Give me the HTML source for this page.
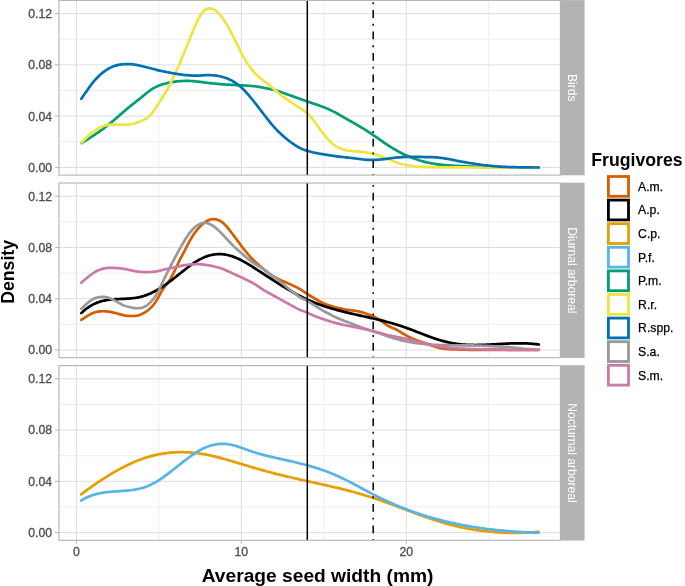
<!DOCTYPE html><html><head><meta charset="utf-8"><style>html,body{margin:0;padding:0;background:#fff;}svg{display:block;will-change:transform;}text{font-family:"Liberation Sans",sans-serif;}</style></head><body>
<svg width="685" height="586" viewBox="0 0 685 586">
<rect x="0" y="0" width="685" height="586" fill="#fff"/>
<defs><clipPath id="c0"><rect x="58.96" y="0.40" width="501.44" height="174.70"/></clipPath></defs>
<g clip-path="url(#c0)">
<line x1="58.96" x2="560.40" y1="141.77" y2="141.77" stroke="#EEEEEE" stroke-width="1"/>
<line x1="58.96" x2="560.40" y1="90.50" y2="90.50" stroke="#EEEEEE" stroke-width="1"/>
<line x1="58.96" x2="560.40" y1="39.23" y2="39.23" stroke="#EEEEEE" stroke-width="1"/>
<line x1="158.88" x2="158.88" y1="0.40" y2="175.10" stroke="#EEEEEE" stroke-width="1"/>
<line x1="323.83" x2="323.83" y1="0.40" y2="175.10" stroke="#EEEEEE" stroke-width="1"/>
<line x1="488.77" x2="488.77" y1="0.40" y2="175.10" stroke="#EEEEEE" stroke-width="1"/>
<line x1="58.96" x2="560.40" y1="167.40" y2="167.40" stroke="#DEDEDE" stroke-width="1"/>
<line x1="58.96" x2="560.40" y1="116.13" y2="116.13" stroke="#DEDEDE" stroke-width="1"/>
<line x1="58.96" x2="560.40" y1="64.86" y2="64.86" stroke="#DEDEDE" stroke-width="1"/>
<line x1="58.96" x2="560.40" y1="13.60" y2="13.60" stroke="#DEDEDE" stroke-width="1"/>
<line x1="76.40" x2="76.40" y1="0.40" y2="175.10" stroke="#DEDEDE" stroke-width="1"/>
<line x1="241.35" x2="241.35" y1="0.40" y2="175.10" stroke="#DEDEDE" stroke-width="1"/>
<line x1="406.30" x2="406.30" y1="0.40" y2="175.10" stroke="#DEDEDE" stroke-width="1"/>
<path d="M81.60,143.00 L82.60,142.38 L83.60,141.76 L84.60,141.14 L85.60,140.52 L86.60,139.89 L87.60,139.27 L88.60,138.65 L89.60,138.02 L90.60,137.39 L91.60,136.75 L92.60,136.11 L93.60,135.47 L94.60,134.81 L95.60,134.15 L96.60,133.49 L97.60,132.81 L98.60,132.13 L99.60,131.43 L100.60,130.73 L101.60,130.02 L102.60,129.29 L103.60,128.55 L104.61,127.79 L105.61,127.02 L106.61,126.24 L107.61,125.44 L108.61,124.63 L109.61,123.81 L110.61,122.98 L111.61,122.14 L112.61,121.30 L113.61,120.45 L114.61,119.59 L115.61,118.74 L116.61,117.87 L117.61,117.00 L118.61,116.13 L119.61,115.26 L120.61,114.39 L121.61,113.51 L122.61,112.64 L123.61,111.77 L124.61,110.91 L125.61,110.06 L126.61,109.21 L127.61,108.37 L128.61,107.54 L129.61,106.72 L130.61,105.90 L131.61,105.09 L132.61,104.29 L133.61,103.50 L134.61,102.72 L135.61,101.94 L136.61,101.16 L137.61,100.38 L138.61,99.61 L139.61,98.82 L140.61,98.03 L141.61,97.23 L142.61,96.41 L143.61,95.58 L144.61,94.74 L145.61,93.90 L146.61,93.07 L147.61,92.26 L148.61,91.48 L149.61,90.73 L150.62,90.03 L151.62,89.37 L152.62,88.75 L153.62,88.17 L154.62,87.62 L155.62,87.11 L156.62,86.63 L157.62,86.18 L158.62,85.75 L159.62,85.36 L160.62,84.98 L161.62,84.64 L162.62,84.31 L163.62,84.00 L164.62,83.72 L165.62,83.45 L166.62,83.20 L167.62,82.96 L168.62,82.74 L169.62,82.54 L170.62,82.35 L171.62,82.17 L172.62,82.00 L173.62,81.85 L174.62,81.70 L175.62,81.57 L176.62,81.45 L177.62,81.34 L178.62,81.25 L179.62,81.16 L180.62,81.09 L181.62,81.03 L182.62,80.99 L183.62,80.96 L184.62,80.93 L185.62,80.92 L186.62,80.92 L187.62,80.93 L188.62,80.95 L189.62,80.97 L190.62,81.01 L191.62,81.06 L192.62,81.13 L193.62,81.20 L194.62,81.28 L195.62,81.37 L196.63,81.47 L197.63,81.57 L198.63,81.68 L199.63,81.80 L200.63,81.92 L201.63,82.06 L202.63,82.19 L203.63,82.33 L204.63,82.47 L205.63,82.60 L206.63,82.73 L207.63,82.86 L208.63,82.97 L209.63,83.09 L210.63,83.19 L211.63,83.30 L212.63,83.40 L213.63,83.50 L214.63,83.61 L215.63,83.71 L216.63,83.81 L217.63,83.91 L218.63,84.00 L219.63,84.09 L220.63,84.17 L221.63,84.25 L222.63,84.32 L223.63,84.38 L224.63,84.45 L225.63,84.51 L226.63,84.57 L227.63,84.62 L228.63,84.68 L229.63,84.74 L230.63,84.80 L231.63,84.85 L232.63,84.91 L233.63,84.96 L234.63,85.01 L235.63,85.06 L236.63,85.11 L237.63,85.15 L238.63,85.20 L239.63,85.25 L240.63,85.30 L241.64,85.35 L242.64,85.40 L243.64,85.45 L244.64,85.51 L245.64,85.57 L246.64,85.63 L247.64,85.69 L248.64,85.76 L249.64,85.83 L250.64,85.90 L251.64,85.98 L252.64,86.07 L253.64,86.17 L254.64,86.28 L255.64,86.40 L256.64,86.53 L257.64,86.68 L258.64,86.84 L259.64,87.01 L260.64,87.18 L261.64,87.37 L262.64,87.56 L263.64,87.75 L264.64,87.95 L265.64,88.15 L266.64,88.35 L267.64,88.55 L268.64,88.74 L269.64,88.94 L270.64,89.14 L271.64,89.35 L272.64,89.57 L273.64,89.80 L274.64,90.06 L275.64,90.34 L276.64,90.64 L277.64,90.97 L278.64,91.31 L279.64,91.67 L280.64,92.03 L281.64,92.39 L282.64,92.74 L283.64,93.09 L284.64,93.44 L285.64,93.78 L286.64,94.12 L287.65,94.47 L288.65,94.81 L289.65,95.17 L290.65,95.52 L291.65,95.88 L292.65,96.25 L293.65,96.61 L294.65,96.97 L295.65,97.34 L296.65,97.70 L297.65,98.05 L298.65,98.41 L299.65,98.77 L300.65,99.12 L301.65,99.47 L302.65,99.83 L303.65,100.18 L304.65,100.53 L305.65,100.88 L306.65,101.23 L307.65,101.58 L308.65,101.93 L309.65,102.27 L310.65,102.61 L311.65,102.95 L312.65,103.28 L313.65,103.62 L314.65,103.96 L315.65,104.29 L316.65,104.64 L317.65,104.98 L318.65,105.33 L319.65,105.68 L320.65,106.04 L321.65,106.41 L322.65,106.78 L323.65,107.17 L324.65,107.56 L325.65,107.96 L326.65,108.38 L327.65,108.80 L328.65,109.24 L329.65,109.69 L330.65,110.15 L331.65,110.62 L332.65,111.11 L333.66,111.62 L334.66,112.14 L335.66,112.67 L336.66,113.22 L337.66,113.78 L338.66,114.35 L339.66,114.93 L340.66,115.51 L341.66,116.10 L342.66,116.68 L343.66,117.26 L344.66,117.83 L345.66,118.39 L346.66,118.95 L347.66,119.51 L348.66,120.08 L349.66,120.64 L350.66,121.21 L351.66,121.78 L352.66,122.36 L353.66,122.94 L354.66,123.51 L355.66,124.09 L356.66,124.66 L357.66,125.23 L358.66,125.80 L359.66,126.38 L360.66,126.97 L361.66,127.57 L362.66,128.18 L363.66,128.81 L364.66,129.44 L365.66,130.09 L366.66,130.73 L367.66,131.38 L368.66,132.03 L369.66,132.69 L370.66,133.34 L371.66,134.00 L372.66,134.66 L373.66,135.34 L374.66,136.02 L375.66,136.71 L376.66,137.41 L377.66,138.11 L378.66,138.82 L379.67,139.53 L380.67,140.24 L381.67,140.94 L382.67,141.64 L383.67,142.33 L384.67,143.02 L385.67,143.69 L386.67,144.36 L387.67,145.01 L388.67,145.66 L389.67,146.30 L390.67,146.93 L391.67,147.55 L392.67,148.16 L393.67,148.77 L394.67,149.37 L395.67,149.96 L396.67,150.54 L397.67,151.11 L398.67,151.66 L399.67,152.21 L400.67,152.74 L401.67,153.26 L402.67,153.76 L403.67,154.24 L404.67,154.71 L405.67,155.17 L406.67,155.61 L407.67,156.04 L408.67,156.46 L409.67,156.86 L410.67,157.26 L411.67,157.64 L412.67,158.02 L413.67,158.38 L414.67,158.74 L415.67,159.09 L416.67,159.44 L417.67,159.78 L418.67,160.10 L419.67,160.42 L420.67,160.73 L421.67,161.02 L422.67,161.31 L423.67,161.58 L424.68,161.84 L425.68,162.08 L426.68,162.32 L427.68,162.54 L428.68,162.75 L429.68,162.96 L430.68,163.15 L431.68,163.34 L432.68,163.52 L433.68,163.69 L434.68,163.85 L435.68,164.01 L436.68,164.16 L437.68,164.30 L438.68,164.43 L439.68,164.56 L440.68,164.68 L441.68,164.79 L442.68,164.89 L443.68,164.99 L444.68,165.08 L445.68,165.17 L446.68,165.25 L447.68,165.33 L448.68,165.40 L449.68,165.46 L450.68,165.52 L451.68,165.58 L452.68,165.64 L453.68,165.69 L454.68,165.74 L455.68,165.79 L456.68,165.84 L457.68,165.89 L458.68,165.94 L459.68,165.99 L460.68,166.04 L461.68,166.09 L462.68,166.14 L463.68,166.19 L464.68,166.25 L465.68,166.30 L466.68,166.35 L467.68,166.40 L468.68,166.45 L469.68,166.50 L470.69,166.55 L471.69,166.60 L472.69,166.65 L473.69,166.69 L474.69,166.74 L475.69,166.79 L476.69,166.83 L477.69,166.88 L478.69,166.92 L479.69,166.96 L480.69,167.00 L481.69,167.03 L482.69,167.07 L483.69,167.10 L484.69,167.13 L485.69,167.15 L486.69,167.18 L487.69,167.20 L488.69,167.23 L489.69,167.25 L490.69,167.27 L491.69,167.29 L492.69,167.31 L493.69,167.32 L494.69,167.34 L495.69,167.35 L496.69,167.36 L497.69,167.38 L498.69,167.38 L499.69,167.39 L500.69,167.40 L501.69,167.41 L502.69,167.41 L503.69,167.42 L504.69,167.42 L505.69,167.43 L506.69,167.43 L507.69,167.43 L508.69,167.44 L509.69,167.44 L510.69,167.45 L511.69,167.45 L512.69,167.45 L513.69,167.46 L514.69,167.46 L515.69,167.46 L516.70,167.47 L517.70,167.47 L518.70,167.47 L519.70,167.47 L520.70,167.48 L521.70,167.48 L522.70,167.48 L523.70,167.48 L524.70,167.49 L525.70,167.49 L526.70,167.49 L527.70,167.49 L528.70,167.49 L529.70,167.49 L530.70,167.49 L531.70,167.50 L532.70,167.50 L533.70,167.50 L534.70,167.50 L535.70,167.50 L536.70,167.50 L537.70,167.50 L538.70,167.50" fill="none" stroke="#009E73" stroke-width="2.70" stroke-linecap="round" stroke-linejoin="round"/>
<path d="M81.60,142.52 L82.60,141.49 L83.60,140.48 L84.60,139.49 L85.60,138.51 L86.60,137.55 L87.60,136.62 L88.60,135.70 L89.60,134.81 L90.60,133.95 L91.60,133.11 L92.60,132.31 L93.60,131.54 L94.60,130.80 L95.60,130.10 L96.60,129.44 L97.60,128.82 L98.60,128.23 L99.60,127.69 L100.60,127.20 L101.60,126.75 L102.60,126.34 L103.60,125.98 L104.61,125.67 L105.61,125.41 L106.61,125.19 L107.61,125.01 L108.61,124.88 L109.61,124.77 L110.61,124.70 L111.61,124.65 L112.61,124.62 L113.61,124.61 L114.61,124.60 L115.61,124.60 L116.61,124.60 L117.61,124.60 L118.61,124.60 L119.61,124.60 L120.61,124.60 L121.61,124.60 L122.61,124.60 L123.61,124.60 L124.61,124.60 L125.61,124.59 L126.61,124.57 L127.61,124.53 L128.61,124.47 L129.61,124.39 L130.61,124.27 L131.61,124.12 L132.61,123.93 L133.61,123.71 L134.61,123.44 L135.61,123.14 L136.61,122.81 L137.61,122.45 L138.61,122.08 L139.61,121.68 L140.61,121.26 L141.61,120.83 L142.61,120.38 L143.61,119.90 L144.61,119.40 L145.61,118.85 L146.61,118.24 L147.61,117.54 L148.61,116.73 L149.61,115.80 L150.62,114.75 L151.62,113.59 L152.62,112.34 L153.62,111.01 L154.62,109.63 L155.62,108.18 L156.62,106.67 L157.62,105.11 L158.62,103.51 L159.62,101.89 L160.62,100.28 L161.62,98.70 L162.62,97.15 L163.62,95.61 L164.62,94.08 L165.62,92.50 L166.62,90.84 L167.62,89.07 L168.62,87.18 L169.62,85.17 L170.62,83.06 L171.62,80.88 L172.62,78.67 L173.62,76.49 L174.62,74.35 L175.62,72.28 L176.62,70.25 L177.62,68.19 L178.62,66.02 L179.62,63.69 L180.62,61.24 L181.62,58.75 L182.62,56.34 L183.62,54.02 L184.62,51.75 L185.62,49.43 L186.62,47.00 L187.62,44.47 L188.62,41.89 L189.62,39.32 L190.62,36.77 L191.62,34.26 L192.62,31.80 L193.62,29.38 L194.62,27.03 L195.62,24.77 L196.63,22.60 L197.63,20.54 L198.63,18.59 L199.63,16.77 L200.63,15.12 L201.63,13.65 L202.63,12.37 L203.63,11.30 L204.63,10.40 L205.63,9.68 L206.63,9.12 L207.63,8.72 L208.63,8.48 L209.63,8.39 L210.63,8.44 L211.63,8.62 L212.63,8.93 L213.63,9.37 L214.63,9.93 L215.63,10.61 L216.63,11.40 L217.63,12.28 L218.63,13.27 L219.63,14.36 L220.63,15.55 L221.63,16.83 L222.63,18.20 L223.63,19.64 L224.63,21.15 L225.63,22.73 L226.63,24.38 L227.63,26.10 L228.63,27.88 L229.63,29.73 L230.63,31.62 L231.63,33.55 L232.63,35.51 L233.63,37.48 L234.63,39.47 L235.63,41.47 L236.63,43.49 L237.63,45.51 L238.63,47.54 L239.63,49.56 L240.63,51.54 L241.64,53.47 L242.64,55.34 L243.64,57.15 L244.64,58.89 L245.64,60.57 L246.64,62.18 L247.64,63.72 L248.64,65.18 L249.64,66.56 L250.64,67.89 L251.64,69.18 L252.64,70.45 L253.64,71.66 L254.64,72.82 L255.64,73.91 L256.64,74.91 L257.64,75.85 L258.64,76.75 L259.64,77.61 L260.64,78.45 L261.64,79.28 L262.64,80.10 L263.64,80.91 L264.64,81.71 L265.64,82.51 L266.64,83.29 L267.64,84.08 L268.64,84.87 L269.64,85.65 L270.64,86.43 L271.64,87.22 L272.64,88.02 L273.64,88.83 L274.64,89.66 L275.64,90.51 L276.64,91.38 L277.64,92.26 L278.64,93.15 L279.64,94.02 L280.64,94.87 L281.64,95.69 L282.64,96.47 L283.64,97.21 L284.64,97.93 L285.64,98.63 L286.64,99.31 L287.65,99.99 L288.65,100.66 L289.65,101.33 L290.65,102.00 L291.65,102.66 L292.65,103.32 L293.65,103.98 L294.65,104.63 L295.65,105.28 L296.65,105.93 L297.65,106.57 L298.65,107.21 L299.65,107.86 L300.65,108.52 L301.65,109.18 L302.65,109.86 L303.65,110.56 L304.65,111.29 L305.65,112.05 L306.65,112.86 L307.65,113.74 L308.65,114.69 L309.65,115.72 L310.65,116.82 L311.65,117.98 L312.65,119.20 L313.65,120.46 L314.65,121.76 L315.65,123.10 L316.65,124.46 L317.65,125.85 L318.65,127.25 L319.65,128.65 L320.65,130.05 L321.65,131.44 L322.65,132.79 L323.65,134.11 L324.65,135.38 L325.65,136.60 L326.65,137.76 L327.65,138.88 L328.65,139.95 L329.65,140.98 L330.65,141.96 L331.65,142.90 L332.65,143.78 L333.66,144.59 L334.66,145.33 L335.66,146.00 L336.66,146.60 L337.66,147.15 L338.66,147.64 L339.66,148.09 L340.66,148.51 L341.66,148.91 L342.66,149.27 L343.66,149.60 L344.66,149.89 L345.66,150.14 L346.66,150.36 L347.66,150.54 L348.66,150.69 L349.66,150.82 L350.66,150.93 L351.66,151.02 L352.66,151.10 L353.66,151.17 L354.66,151.24 L355.66,151.30 L356.66,151.37 L357.66,151.45 L358.66,151.53 L359.66,151.62 L360.66,151.71 L361.66,151.82 L362.66,151.93 L363.66,152.05 L364.66,152.19 L365.66,152.33 L366.66,152.48 L367.66,152.65 L368.66,152.82 L369.66,153.01 L370.66,153.21 L371.66,153.43 L372.66,153.67 L373.66,153.94 L374.66,154.23 L375.66,154.55 L376.66,154.89 L377.66,155.24 L378.66,155.60 L379.67,155.96 L380.67,156.32 L381.67,156.68 L382.67,157.05 L383.67,157.41 L384.67,157.79 L385.67,158.16 L386.67,158.54 L387.67,158.93 L388.67,159.32 L389.67,159.72 L390.67,160.13 L391.67,160.54 L392.67,160.95 L393.67,161.37 L394.67,161.78 L395.67,162.16 L396.67,162.53 L397.67,162.87 L398.67,163.19 L399.67,163.49 L400.67,163.78 L401.67,164.04 L402.67,164.29 L403.67,164.53 L404.67,164.75 L405.67,164.96 L406.67,165.16 L407.67,165.35 L408.67,165.52 L409.67,165.68 L410.67,165.83 L411.67,165.97 L412.67,166.10 L413.67,166.23 L414.67,166.35 L415.67,166.47 L416.67,166.58 L417.67,166.68 L418.67,166.77 L419.67,166.84 L420.67,166.91 L421.67,166.96 L422.67,167.00 L423.67,167.04 L424.68,167.07 L425.68,167.10 L426.68,167.13 L427.68,167.15 L428.68,167.17 L429.68,167.19 L430.68,167.21 L431.68,167.22 L432.68,167.24 L433.68,167.25 L434.68,167.27 L435.68,167.28 L436.68,167.29 L437.68,167.30 L438.68,167.31 L439.68,167.32 L440.68,167.33 L441.68,167.34 L442.68,167.35 L443.68,167.36 L444.68,167.37 L445.68,167.38 L446.68,167.38 L447.68,167.39 L448.68,167.39 L449.68,167.40 L450.68,167.40 L451.68,167.41 L452.68,167.41 L453.68,167.42 L454.68,167.42 L455.68,167.42 L456.68,167.43 L457.68,167.43 L458.68,167.44 L459.68,167.44 L460.68,167.44 L461.68,167.45 L462.68,167.45 L463.68,167.45 L464.68,167.46 L465.68,167.46 L466.68,167.47 L467.68,167.47 L468.68,167.47 L469.68,167.48 L470.69,167.48 L471.69,167.48 L472.69,167.49 L473.69,167.49 L474.69,167.49 L475.69,167.50 L476.69,167.50 L477.69,167.50 L478.69,167.50 L479.69,167.51 L480.69,167.51 L481.69,167.51 L482.69,167.52 L483.69,167.52 L484.69,167.52 L485.69,167.53 L486.69,167.53 L487.69,167.53 L488.69,167.53 L489.69,167.54 L490.69,167.54 L491.69,167.54 L492.69,167.54 L493.69,167.55 L494.69,167.55 L495.69,167.55 L496.69,167.55 L497.69,167.55 L498.69,167.56 L499.69,167.56 L500.69,167.56 L501.69,167.56 L502.69,167.56 L503.69,167.57 L504.69,167.57 L505.69,167.57 L506.69,167.57 L507.69,167.57 L508.69,167.58 L509.69,167.58 L510.69,167.58 L511.69,167.58 L512.69,167.58 L513.69,167.58 L514.69,167.58 L515.69,167.59 L516.70,167.59 L517.70,167.59 L518.70,167.59 L519.70,167.59 L520.70,167.59 L521.70,167.59 L522.70,167.59 L523.70,167.59 L524.70,167.59 L525.70,167.60 L526.70,167.60 L527.70,167.60 L528.70,167.60 L529.70,167.60 L530.70,167.60 L531.70,167.60 L532.70,167.60 L533.70,167.60 L534.70,167.60 L535.70,167.60 L536.70,167.60 L537.70,167.60 L538.70,167.60" fill="none" stroke="#F0E442" stroke-width="2.70" stroke-linecap="round" stroke-linejoin="round"/>
<path d="M81.40,98.82 L82.40,97.31 L83.40,95.82 L84.40,94.33 L85.40,92.85 L86.40,91.39 L87.40,89.95 L88.40,88.52 L89.41,87.13 L90.41,85.77 L91.41,84.44 L92.41,83.17 L93.41,81.93 L94.41,80.75 L95.41,79.61 L96.41,78.52 L97.41,77.47 L98.41,76.47 L99.41,75.51 L100.41,74.59 L101.41,73.71 L102.41,72.88 L103.41,72.08 L104.42,71.33 L105.42,70.61 L106.42,69.94 L107.42,69.30 L108.42,68.70 L109.42,68.14 L110.42,67.62 L111.42,67.15 L112.42,66.72 L113.42,66.33 L114.42,65.97 L115.42,65.66 L116.42,65.37 L117.42,65.12 L118.42,64.90 L119.42,64.70 L120.43,64.54 L121.43,64.41 L122.43,64.31 L123.43,64.23 L124.43,64.18 L125.43,64.14 L126.43,64.12 L127.43,64.12 L128.43,64.12 L129.43,64.14 L130.43,64.17 L131.43,64.23 L132.43,64.31 L133.43,64.42 L134.43,64.56 L135.44,64.72 L136.44,64.90 L137.44,65.10 L138.44,65.31 L139.44,65.54 L140.44,65.78 L141.44,66.03 L142.44,66.28 L143.44,66.54 L144.44,66.79 L145.44,67.05 L146.44,67.30 L147.44,67.55 L148.44,67.80 L149.44,68.04 L150.45,68.29 L151.45,68.54 L152.45,68.79 L153.45,69.04 L154.45,69.30 L155.45,69.57 L156.45,69.83 L157.45,70.10 L158.45,70.36 L159.45,70.60 L160.45,70.83 L161.45,71.05 L162.45,71.26 L163.45,71.45 L164.45,71.65 L165.46,71.84 L166.46,72.04 L167.46,72.24 L168.46,72.44 L169.46,72.64 L170.46,72.83 L171.46,73.02 L172.46,73.19 L173.46,73.36 L174.46,73.52 L175.46,73.68 L176.46,73.84 L177.46,73.99 L178.46,74.15 L179.46,74.30 L180.46,74.45 L181.47,74.60 L182.47,74.74 L183.47,74.86 L184.47,74.98 L185.47,75.08 L186.47,75.17 L187.47,75.26 L188.47,75.34 L189.47,75.41 L190.47,75.47 L191.47,75.53 L192.47,75.58 L193.47,75.62 L194.47,75.64 L195.47,75.65 L196.48,75.65 L197.48,75.64 L198.48,75.61 L199.48,75.58 L200.48,75.53 L201.48,75.47 L202.48,75.40 L203.48,75.33 L204.48,75.27 L205.48,75.22 L206.48,75.18 L207.48,75.16 L208.48,75.16 L209.48,75.17 L210.48,75.19 L211.49,75.23 L212.49,75.29 L213.49,75.35 L214.49,75.44 L215.49,75.56 L216.49,75.69 L217.49,75.85 L218.49,76.03 L219.49,76.23 L220.49,76.45 L221.49,76.68 L222.49,76.94 L223.49,77.22 L224.49,77.52 L225.49,77.84 L226.50,78.19 L227.50,78.58 L228.50,78.99 L229.50,79.43 L230.50,79.91 L231.50,80.42 L232.50,80.97 L233.50,81.55 L234.50,82.17 L235.50,82.82 L236.50,83.52 L237.50,84.25 L238.50,85.03 L239.50,85.84 L240.50,86.70 L241.51,87.61 L242.51,88.55 L243.51,89.54 L244.51,90.57 L245.51,91.63 L246.51,92.72 L247.51,93.83 L248.51,94.97 L249.51,96.14 L250.51,97.32 L251.51,98.52 L252.51,99.75 L253.51,100.99 L254.51,102.24 L255.51,103.52 L256.51,104.80 L257.52,106.10 L258.52,107.41 L259.52,108.72 L260.52,110.03 L261.52,111.34 L262.52,112.65 L263.52,113.95 L264.52,115.25 L265.52,116.54 L266.52,117.82 L267.52,119.09 L268.52,120.35 L269.52,121.60 L270.52,122.84 L271.52,124.06 L272.53,125.25 L273.53,126.41 L274.53,127.54 L275.53,128.63 L276.53,129.68 L277.53,130.70 L278.53,131.69 L279.53,132.65 L280.53,133.59 L281.53,134.52 L282.53,135.42 L283.53,136.31 L284.53,137.19 L285.53,138.05 L286.53,138.89 L287.54,139.71 L288.54,140.50 L289.54,141.28 L290.54,142.03 L291.54,142.76 L292.54,143.47 L293.54,144.16 L294.54,144.82 L295.54,145.46 L296.54,146.07 L297.54,146.67 L298.54,147.23 L299.54,147.77 L300.54,148.28 L301.54,148.75 L302.55,149.20 L303.55,149.61 L304.55,150.00 L305.55,150.35 L306.55,150.69 L307.55,151.00 L308.55,151.29 L309.55,151.56 L310.55,151.81 L311.55,152.05 L312.55,152.28 L313.55,152.49 L314.55,152.70 L315.55,152.90 L316.55,153.09 L317.55,153.28 L318.56,153.46 L319.56,153.64 L320.56,153.81 L321.56,153.99 L322.56,154.15 L323.56,154.32 L324.56,154.49 L325.56,154.65 L326.56,154.81 L327.56,154.97 L328.56,155.13 L329.56,155.29 L330.56,155.44 L331.56,155.60 L332.56,155.75 L333.57,155.89 L334.57,156.03 L335.57,156.17 L336.57,156.30 L337.57,156.43 L338.57,156.56 L339.57,156.68 L340.57,156.79 L341.57,156.90 L342.57,157.01 L343.57,157.12 L344.57,157.23 L345.57,157.33 L346.57,157.44 L347.57,157.54 L348.58,157.65 L349.58,157.76 L350.58,157.87 L351.58,157.98 L352.58,158.10 L353.58,158.23 L354.58,158.35 L355.58,158.48 L356.58,158.61 L357.58,158.75 L358.58,158.88 L359.58,159.02 L360.58,159.15 L361.58,159.27 L362.58,159.40 L363.59,159.51 L364.59,159.62 L365.59,159.71 L366.59,159.79 L367.59,159.85 L368.59,159.89 L369.59,159.93 L370.59,159.95 L371.59,159.96 L372.59,159.95 L373.59,159.94 L374.59,159.91 L375.59,159.86 L376.59,159.80 L377.59,159.73 L378.59,159.65 L379.60,159.57 L380.60,159.49 L381.60,159.40 L382.60,159.31 L383.60,159.21 L384.60,159.10 L385.60,158.98 L386.60,158.85 L387.60,158.71 L388.60,158.56 L389.60,158.41 L390.60,158.27 L391.60,158.13 L392.60,157.99 L393.60,157.87 L394.61,157.75 L395.61,157.64 L396.61,157.54 L397.61,157.45 L398.61,157.37 L399.61,157.30 L400.61,157.23 L401.61,157.16 L402.61,157.10 L403.61,157.04 L404.61,156.98 L405.61,156.93 L406.61,156.89 L407.61,156.85 L408.61,156.83 L409.62,156.82 L410.62,156.81 L411.62,156.80 L412.62,156.80 L413.62,156.81 L414.62,156.81 L415.62,156.82 L416.62,156.84 L417.62,156.86 L418.62,156.88 L419.62,156.91 L420.62,156.94 L421.62,156.97 L422.62,157.00 L423.62,157.03 L424.63,157.06 L425.63,157.08 L426.63,157.09 L427.63,157.10 L428.63,157.10 L429.63,157.11 L430.63,157.13 L431.63,157.15 L432.63,157.18 L433.63,157.23 L434.63,157.28 L435.63,157.35 L436.63,157.43 L437.63,157.52 L438.63,157.63 L439.64,157.74 L440.64,157.86 L441.64,157.99 L442.64,158.13 L443.64,158.27 L444.64,158.42 L445.64,158.57 L446.64,158.73 L447.64,158.90 L448.64,159.08 L449.64,159.27 L450.64,159.46 L451.64,159.66 L452.64,159.87 L453.64,160.08 L454.64,160.29 L455.65,160.50 L456.65,160.71 L457.65,160.91 L458.65,161.11 L459.65,161.31 L460.65,161.49 L461.65,161.67 L462.65,161.85 L463.65,162.02 L464.65,162.19 L465.65,162.36 L466.65,162.54 L467.65,162.71 L468.65,162.88 L469.65,163.05 L470.66,163.21 L471.66,163.38 L472.66,163.54 L473.66,163.70 L474.66,163.85 L475.66,164.01 L476.66,164.16 L477.66,164.30 L478.66,164.45 L479.66,164.59 L480.66,164.73 L481.66,164.86 L482.66,164.99 L483.66,165.11 L484.66,165.22 L485.67,165.33 L486.67,165.44 L487.67,165.55 L488.67,165.65 L489.67,165.75 L490.67,165.86 L491.67,165.96 L492.67,166.06 L493.67,166.15 L494.67,166.24 L495.67,166.33 L496.67,166.40 L497.67,166.48 L498.67,166.55 L499.67,166.61 L500.68,166.67 L501.68,166.73 L502.68,166.78 L503.68,166.83 L504.68,166.88 L505.68,166.92 L506.68,166.96 L507.68,166.99 L508.68,167.02 L509.68,167.06 L510.68,167.09 L511.68,167.11 L512.68,167.14 L513.68,167.17 L514.68,167.19 L515.68,167.22 L516.69,167.24 L517.69,167.26 L518.69,167.28 L519.69,167.31 L520.69,167.33 L521.69,167.34 L522.69,167.36 L523.69,167.38 L524.69,167.39 L525.69,167.40 L526.69,167.42 L527.69,167.43 L528.69,167.44 L529.69,167.45 L530.69,167.46 L531.70,167.47 L532.70,167.47 L533.70,167.48 L534.70,167.49 L535.70,167.49 L536.70,167.49 L537.70,167.50 L538.70,167.50" fill="none" stroke="#0072B2" stroke-width="2.70" stroke-linecap="round" stroke-linejoin="round"/>
<line x1="307.3" x2="307.3" y1="175.10" y2="0.40" stroke="#000" stroke-width="1.5"/>
<line x1="373.2" x2="373.2" y1="175.10" y2="0.40" stroke="#000" stroke-width="1.5" stroke-dasharray="1.95 5.85 7.8 5.85" stroke-dashoffset="0.75"/>
</g>
<rect x="58.96" y="0.40" width="501.44" height="174.70" fill="none" stroke="#B3B3B3" stroke-width="1.1"/>
<rect x="560.40" y="0.10" width="24.20" height="175.20" fill="#B3B3B3"/>
<text x="0" y="0" transform="translate(572.4,87.75) rotate(90)" text-anchor="middle" dominant-baseline="central" fill="#fff" font-size="12.1">Birds</text>
<line x1="55" x2="58.96" y1="167.40" y2="167.40" stroke="#B3B3B3" stroke-width="1"/>
<text x="52.1" y="171.80" text-anchor="end" fill="#4D4D4D" stroke="#4D4D4D" stroke-width="0.3" font-size="12.3">0.00</text>
<line x1="55" x2="58.96" y1="116.13" y2="116.13" stroke="#B3B3B3" stroke-width="1"/>
<text x="52.1" y="120.53" text-anchor="end" fill="#4D4D4D" stroke="#4D4D4D" stroke-width="0.3" font-size="12.3">0.04</text>
<line x1="55" x2="58.96" y1="64.86" y2="64.86" stroke="#B3B3B3" stroke-width="1"/>
<text x="52.1" y="69.26" text-anchor="end" fill="#4D4D4D" stroke="#4D4D4D" stroke-width="0.3" font-size="12.3">0.08</text>
<line x1="55" x2="58.96" y1="13.60" y2="13.60" stroke="#B3B3B3" stroke-width="1"/>
<text x="52.1" y="18.00" text-anchor="end" fill="#4D4D4D" stroke="#4D4D4D" stroke-width="0.3" font-size="12.3">0.12</text>
<defs><clipPath id="c1"><rect x="58.96" y="183.00" width="501.44" height="174.70"/></clipPath></defs>
<g clip-path="url(#c1)">
<line x1="58.96" x2="560.40" y1="324.37" y2="324.37" stroke="#EEEEEE" stroke-width="1"/>
<line x1="58.96" x2="560.40" y1="273.10" y2="273.10" stroke="#EEEEEE" stroke-width="1"/>
<line x1="58.96" x2="560.40" y1="221.83" y2="221.83" stroke="#EEEEEE" stroke-width="1"/>
<line x1="158.88" x2="158.88" y1="183.00" y2="357.70" stroke="#EEEEEE" stroke-width="1"/>
<line x1="323.83" x2="323.83" y1="183.00" y2="357.70" stroke="#EEEEEE" stroke-width="1"/>
<line x1="488.77" x2="488.77" y1="183.00" y2="357.70" stroke="#EEEEEE" stroke-width="1"/>
<line x1="58.96" x2="560.40" y1="350.00" y2="350.00" stroke="#DEDEDE" stroke-width="1"/>
<line x1="58.96" x2="560.40" y1="298.73" y2="298.73" stroke="#DEDEDE" stroke-width="1"/>
<line x1="58.96" x2="560.40" y1="247.46" y2="247.46" stroke="#DEDEDE" stroke-width="1"/>
<line x1="58.96" x2="560.40" y1="196.20" y2="196.20" stroke="#DEDEDE" stroke-width="1"/>
<line x1="76.40" x2="76.40" y1="183.00" y2="357.70" stroke="#DEDEDE" stroke-width="1"/>
<line x1="241.35" x2="241.35" y1="183.00" y2="357.70" stroke="#DEDEDE" stroke-width="1"/>
<line x1="406.30" x2="406.30" y1="183.00" y2="357.70" stroke="#DEDEDE" stroke-width="1"/>
<path d="M81.30,319.92 L82.30,319.24 L83.30,318.56 L84.30,317.90 L85.30,317.26 L86.30,316.63 L87.30,316.02 L88.30,315.43 L89.30,314.86 L90.30,314.32 L91.30,313.82 L92.30,313.36 L93.30,312.93 L94.30,312.56 L95.30,312.23 L96.30,311.96 L97.30,311.73 L98.30,311.55 L99.30,311.41 L100.30,311.32 L101.30,311.27 L102.30,311.24 L103.30,311.23 L104.31,311.25 L105.31,311.29 L106.31,311.36 L107.31,311.46 L108.31,311.59 L109.31,311.74 L110.31,311.93 L111.31,312.13 L112.31,312.34 L113.31,312.57 L114.31,312.80 L115.31,313.05 L116.31,313.30 L117.31,313.56 L118.31,313.82 L119.31,314.09 L120.31,314.36 L121.31,314.63 L122.31,314.89 L123.31,315.14 L124.31,315.37 L125.31,315.58 L126.31,315.75 L127.31,315.87 L128.31,315.96 L129.31,316.00 L130.31,316.02 L131.31,316.02 L132.31,316.00 L133.31,315.98 L134.31,315.94 L135.31,315.87 L136.31,315.76 L137.31,315.59 L138.31,315.36 L139.31,315.07 L140.31,314.71 L141.31,314.30 L142.31,313.83 L143.31,313.32 L144.31,312.75 L145.31,312.14 L146.31,311.47 L147.31,310.74 L148.31,309.96 L149.31,309.11 L150.32,308.20 L151.32,307.22 L152.32,306.16 L153.32,305.00 L154.32,303.75 L155.32,302.36 L156.32,300.85 L157.32,299.19 L158.32,297.41 L159.32,295.56 L160.32,293.71 L161.32,291.91 L162.32,290.23 L163.32,288.69 L164.32,287.29 L165.32,285.98 L166.32,284.70 L167.32,283.39 L168.32,282.00 L169.32,280.50 L170.32,278.87 L171.32,277.13 L172.32,275.28 L173.32,273.36 L174.32,271.37 L175.32,269.32 L176.32,267.22 L177.32,265.09 L178.32,262.95 L179.32,260.84 L180.32,258.82 L181.32,256.89 L182.32,255.03 L183.32,253.19 L184.32,251.33 L185.32,249.42 L186.32,247.47 L187.32,245.51 L188.32,243.59 L189.32,241.72 L190.32,239.93 L191.32,238.23 L192.32,236.60 L193.32,235.05 L194.32,233.59 L195.32,232.19 L196.33,230.87 L197.33,229.62 L198.33,228.44 L199.33,227.32 L200.33,226.27 L201.33,225.29 L202.33,224.37 L203.33,223.51 L204.33,222.72 L205.33,222.00 L206.33,221.34 L207.33,220.77 L208.33,220.27 L209.33,219.86 L210.33,219.54 L211.33,219.30 L212.33,219.16 L213.33,219.10 L214.33,219.13 L215.33,219.23 L216.33,219.42 L217.33,219.69 L218.33,220.04 L219.33,220.47 L220.33,221.00 L221.33,221.62 L222.33,222.34 L223.33,223.17 L224.33,224.10 L225.33,225.13 L226.33,226.24 L227.33,227.41 L228.33,228.65 L229.33,229.92 L230.33,231.20 L231.33,232.50 L232.33,233.79 L233.33,235.09 L234.33,236.39 L235.33,237.71 L236.33,239.04 L237.33,240.38 L238.33,241.75 L239.33,243.12 L240.33,244.50 L241.33,245.87 L242.34,247.20 L243.34,248.50 L244.34,249.76 L245.34,250.99 L246.34,252.20 L247.34,253.39 L248.34,254.57 L249.34,255.73 L250.34,256.86 L251.34,257.96 L252.34,259.01 L253.34,260.03 L254.34,261.01 L255.34,261.95 L256.34,262.86 L257.34,263.74 L258.34,264.60 L259.34,265.46 L260.34,266.32 L261.34,267.19 L262.34,268.07 L263.34,268.95 L264.34,269.83 L265.34,270.68 L266.34,271.50 L267.34,272.27 L268.34,273.01 L269.34,273.71 L270.34,274.38 L271.34,275.04 L272.34,275.68 L273.34,276.30 L274.34,276.90 L275.34,277.48 L276.34,278.04 L277.34,278.58 L278.34,279.08 L279.34,279.57 L280.34,280.03 L281.34,280.48 L282.34,280.91 L283.34,281.33 L284.34,281.75 L285.34,282.17 L286.34,282.60 L287.35,283.03 L288.35,283.47 L289.35,283.91 L290.35,284.36 L291.35,284.81 L292.35,285.26 L293.35,285.72 L294.35,286.19 L295.35,286.67 L296.35,287.16 L297.35,287.66 L298.35,288.18 L299.35,288.72 L300.35,289.29 L301.35,289.91 L302.35,290.56 L303.35,291.25 L304.35,291.95 L305.35,292.65 L306.35,293.33 L307.35,293.98 L308.35,294.62 L309.35,295.25 L310.35,295.87 L311.35,296.48 L312.35,297.09 L313.35,297.70 L314.35,298.29 L315.35,298.88 L316.35,299.47 L317.35,300.04 L318.35,300.61 L319.35,301.17 L320.35,301.71 L321.35,302.23 L322.35,302.72 L323.35,303.18 L324.35,303.62 L325.35,304.03 L326.35,304.42 L327.35,304.79 L328.35,305.14 L329.35,305.48 L330.35,305.80 L331.35,306.10 L332.35,306.39 L333.36,306.68 L334.36,306.95 L335.36,307.21 L336.36,307.47 L337.36,307.72 L338.36,307.95 L339.36,308.18 L340.36,308.41 L341.36,308.62 L342.36,308.84 L343.36,309.05 L344.36,309.25 L345.36,309.45 L346.36,309.63 L347.36,309.80 L348.36,309.95 L349.36,310.08 L350.36,310.21 L351.36,310.33 L352.36,310.45 L353.36,310.57 L354.36,310.71 L355.36,310.86 L356.36,311.02 L357.36,311.21 L358.36,311.41 L359.36,311.62 L360.36,311.86 L361.36,312.12 L362.36,312.39 L363.36,312.69 L364.36,313.00 L365.36,313.32 L366.36,313.66 L367.36,314.01 L368.36,314.38 L369.36,314.75 L370.36,315.13 L371.36,315.54 L372.36,315.96 L373.36,316.42 L374.36,316.90 L375.36,317.42 L376.36,317.96 L377.36,318.54 L378.36,319.14 L379.37,319.76 L380.37,320.41 L381.37,321.08 L382.37,321.77 L383.37,322.48 L384.37,323.19 L385.37,323.91 L386.37,324.62 L387.37,325.30 L388.37,325.94 L389.37,326.52 L390.37,327.02 L391.37,327.47 L392.37,327.87 L393.37,328.24 L394.37,328.64 L395.37,329.07 L396.37,329.56 L397.37,330.10 L398.37,330.69 L399.37,331.31 L400.37,331.94 L401.37,332.58 L402.37,333.21 L403.37,333.82 L404.37,334.42 L405.37,335.00 L406.37,335.55 L407.37,336.08 L408.37,336.59 L409.37,337.08 L410.37,337.55 L411.37,338.02 L412.37,338.46 L413.37,338.89 L414.37,339.31 L415.37,339.70 L416.37,340.09 L417.37,340.46 L418.37,340.82 L419.37,341.18 L420.37,341.53 L421.37,341.87 L422.37,342.21 L423.37,342.55 L424.37,342.89 L425.38,343.24 L426.38,343.59 L427.38,343.94 L428.38,344.30 L429.38,344.65 L430.38,345.01 L431.38,345.36 L432.38,345.72 L433.38,346.07 L434.38,346.41 L435.38,346.74 L436.38,347.05 L437.38,347.34 L438.38,347.62 L439.38,347.86 L440.38,348.09 L441.38,348.29 L442.38,348.47 L443.38,348.62 L444.38,348.75 L445.38,348.86 L446.38,348.95 L447.38,349.02 L448.38,349.09 L449.38,349.15 L450.38,349.20 L451.38,349.25 L452.38,349.30 L453.38,349.34 L454.38,349.39 L455.38,349.43 L456.38,349.47 L457.38,349.51 L458.38,349.54 L459.38,349.57 L460.38,349.60 L461.38,349.63 L462.38,349.66 L463.38,349.68 L464.38,349.70 L465.38,349.73 L466.38,349.75 L467.38,349.77 L468.38,349.79 L469.38,349.80 L470.39,349.82 L471.39,349.84 L472.39,349.85 L473.39,349.86 L474.39,349.87 L475.39,349.88 L476.39,349.89 L477.39,349.90 L478.39,349.90 L479.39,349.91 L480.39,349.91 L481.39,349.91 L482.39,349.92 L483.39,349.92 L484.39,349.92 L485.39,349.93 L486.39,349.93 L487.39,349.93 L488.39,349.93 L489.39,349.94 L490.39,349.94 L491.39,349.94 L492.39,349.94 L493.39,349.95 L494.39,349.95 L495.39,349.95 L496.39,349.95 L497.39,349.96 L498.39,349.96 L499.39,349.96 L500.39,349.96 L501.39,349.96 L502.39,349.97 L503.39,349.97 L504.39,349.97 L505.39,349.97 L506.39,349.97 L507.39,349.98 L508.39,349.98 L509.39,349.98 L510.39,349.98 L511.39,349.98 L512.39,349.98 L513.39,349.98 L514.39,349.99 L515.39,349.99 L516.40,349.99 L517.40,349.99 L518.40,349.99 L519.40,349.99 L520.40,349.99 L521.40,349.99 L522.40,349.99 L523.40,349.99 L524.40,349.99 L525.40,350.00 L526.40,350.00 L527.40,350.00 L528.40,350.00 L529.40,350.00 L530.40,350.00 L531.40,350.00 L532.40,350.00 L533.40,350.00 L534.40,350.00 L535.40,350.00 L536.40,350.00 L537.40,350.00 L538.40,350.00 L538.90,350.00" fill="none" stroke="#D55E00" stroke-width="2.70" stroke-linecap="round" stroke-linejoin="round"/>
<path d="M81.30,313.11 L82.30,312.15 L83.30,311.24 L84.30,310.38 L85.30,309.55 L86.30,308.77 L87.30,308.03 L88.30,307.33 L89.30,306.67 L90.30,306.04 L91.30,305.45 L92.30,304.90 L93.30,304.38 L94.30,303.89 L95.30,303.44 L96.30,303.01 L97.30,302.62 L98.30,302.25 L99.30,301.91 L100.30,301.60 L101.30,301.31 L102.30,301.04 L103.30,300.79 L104.31,300.57 L105.31,300.37 L106.31,300.18 L107.31,300.02 L108.31,299.87 L109.31,299.73 L110.31,299.61 L111.31,299.51 L112.31,299.41 L113.31,299.33 L114.31,299.25 L115.31,299.19 L116.31,299.13 L117.31,299.08 L118.31,299.03 L119.31,298.99 L120.31,298.95 L121.31,298.91 L122.31,298.87 L123.31,298.83 L124.31,298.79 L125.31,298.75 L126.31,298.70 L127.31,298.64 L128.31,298.58 L129.31,298.52 L130.31,298.44 L131.31,298.35 L132.31,298.26 L133.31,298.15 L134.31,298.02 L135.31,297.89 L136.31,297.73 L137.31,297.56 L138.31,297.37 L139.31,297.17 L140.31,296.94 L141.31,296.69 L142.31,296.42 L143.31,296.12 L144.31,295.81 L145.31,295.47 L146.31,295.11 L147.31,294.73 L148.31,294.33 L149.31,293.91 L150.32,293.47 L151.32,293.00 L152.32,292.53 L153.32,292.03 L154.32,291.51 L155.32,290.98 L156.32,290.43 L157.32,289.86 L158.32,289.28 L159.32,288.68 L160.32,288.06 L161.32,287.43 L162.32,286.78 L163.32,286.13 L164.32,285.45 L165.32,284.77 L166.32,284.07 L167.32,283.35 L168.32,282.63 L169.32,281.89 L170.32,281.14 L171.32,280.39 L172.32,279.62 L173.32,278.84 L174.32,278.05 L175.32,277.26 L176.32,276.47 L177.32,275.67 L178.32,274.86 L179.32,274.06 L180.32,273.26 L181.32,272.45 L182.32,271.65 L183.32,270.86 L184.32,270.07 L185.32,269.28 L186.32,268.50 L187.32,267.74 L188.32,266.98 L189.32,266.23 L190.32,265.50 L191.32,264.78 L192.32,264.07 L193.32,263.38 L194.32,262.71 L195.32,262.06 L196.33,261.42 L197.33,260.81 L198.33,260.22 L199.33,259.66 L200.33,259.12 L201.33,258.61 L202.33,258.12 L203.33,257.67 L204.33,257.24 L205.33,256.84 L206.33,256.46 L207.33,256.12 L208.33,255.80 L209.33,255.51 L210.33,255.25 L211.33,255.01 L212.33,254.80 L213.33,254.63 L214.33,254.47 L215.33,254.35 L216.33,254.25 L217.33,254.18 L218.33,254.14 L219.33,254.12 L220.33,254.14 L221.33,254.18 L222.33,254.24 L223.33,254.34 L224.33,254.46 L225.33,254.61 L226.33,254.78 L227.33,254.98 L228.33,255.21 L229.33,255.47 L230.33,255.75 L231.33,256.06 L232.33,256.39 L233.33,256.74 L234.33,257.12 L235.33,257.52 L236.33,257.94 L237.33,258.38 L238.33,258.83 L239.33,259.31 L240.33,259.80 L241.33,260.31 L242.34,260.84 L243.34,261.38 L244.34,261.93 L245.34,262.49 L246.34,263.07 L247.34,263.66 L248.34,264.25 L249.34,264.86 L250.34,265.47 L251.34,266.09 L252.34,266.72 L253.34,267.35 L254.34,267.99 L255.34,268.63 L256.34,269.27 L257.34,269.91 L258.34,270.56 L259.34,271.21 L260.34,271.85 L261.34,272.50 L262.34,273.15 L263.34,273.80 L264.34,274.46 L265.34,275.11 L266.34,275.76 L267.34,276.41 L268.34,277.06 L269.34,277.71 L270.34,278.36 L271.34,279.00 L272.34,279.65 L273.34,280.29 L274.34,280.94 L275.34,281.58 L276.34,282.21 L277.34,282.85 L278.34,283.48 L279.34,284.11 L280.34,284.74 L281.34,285.36 L282.34,285.98 L283.34,286.59 L284.34,287.21 L285.34,287.81 L286.34,288.42 L287.35,289.01 L288.35,289.61 L289.35,290.19 L290.35,290.77 L291.35,291.35 L292.35,291.92 L293.35,292.48 L294.35,293.04 L295.35,293.59 L296.35,294.14 L297.35,294.68 L298.35,295.21 L299.35,295.73 L300.35,296.24 L301.35,296.75 L302.35,297.25 L303.35,297.74 L304.35,298.22 L305.35,298.70 L306.35,299.16 L307.35,299.62 L308.35,300.06 L309.35,300.50 L310.35,300.94 L311.35,301.36 L312.35,301.78 L313.35,302.18 L314.35,302.59 L315.35,302.98 L316.35,303.37 L317.35,303.75 L318.35,304.12 L319.35,304.48 L320.35,304.84 L321.35,305.20 L322.35,305.54 L323.35,305.89 L324.35,306.22 L325.35,306.55 L326.35,306.87 L327.35,307.19 L328.35,307.50 L329.35,307.81 L330.35,308.11 L331.35,308.41 L332.35,308.71 L333.36,308.99 L334.36,309.28 L335.36,309.56 L336.36,309.83 L337.36,310.11 L338.36,310.37 L339.36,310.64 L340.36,310.90 L341.36,311.16 L342.36,311.41 L343.36,311.66 L344.36,311.91 L345.36,312.16 L346.36,312.40 L347.36,312.64 L348.36,312.88 L349.36,313.11 L350.36,313.35 L351.36,313.58 L352.36,313.81 L353.36,314.04 L354.36,314.27 L355.36,314.49 L356.36,314.72 L357.36,314.94 L358.36,315.16 L359.36,315.39 L360.36,315.61 L361.36,315.83 L362.36,316.05 L363.36,316.27 L364.36,316.50 L365.36,316.72 L366.36,316.94 L367.36,317.16 L368.36,317.39 L369.36,317.61 L370.36,317.84 L371.36,318.06 L372.36,318.29 L373.36,318.52 L374.36,318.75 L375.36,318.98 L376.36,319.22 L377.36,319.45 L378.36,319.69 L379.37,319.93 L380.37,320.18 L381.37,320.42 L382.37,320.67 L383.37,320.93 L384.37,321.18 L385.37,321.44 L386.37,321.70 L387.37,321.97 L388.37,322.24 L389.37,322.51 L390.37,322.79 L391.37,323.07 L392.37,323.35 L393.37,323.64 L394.37,323.94 L395.37,324.24 L396.37,324.54 L397.37,324.85 L398.37,325.17 L399.37,325.49 L400.37,325.81 L401.37,326.14 L402.37,326.48 L403.37,326.82 L404.37,327.17 L405.37,327.52 L406.37,327.88 L407.37,328.25 L408.37,328.61 L409.37,328.98 L410.37,329.36 L411.37,329.73 L412.37,330.11 L413.37,330.50 L414.37,330.88 L415.37,331.27 L416.37,331.65 L417.37,332.04 L418.37,332.43 L419.37,332.81 L420.37,333.20 L421.37,333.59 L422.37,333.97 L423.37,334.36 L424.37,334.74 L425.38,335.12 L426.38,335.49 L427.38,335.87 L428.38,336.24 L429.38,336.61 L430.38,336.97 L431.38,337.33 L432.38,337.68 L433.38,338.03 L434.38,338.37 L435.38,338.71 L436.38,339.04 L437.38,339.37 L438.38,339.68 L439.38,339.99 L440.38,340.30 L441.38,340.59 L442.38,340.88 L443.38,341.15 L444.38,341.42 L445.38,341.68 L446.38,341.92 L447.38,342.16 L448.38,342.39 L449.38,342.60 L450.38,342.81 L451.38,343.00 L452.38,343.18 L453.38,343.36 L454.38,343.52 L455.38,343.67 L456.38,343.81 L457.38,343.95 L458.38,344.07 L459.38,344.19 L460.38,344.29 L461.38,344.39 L462.38,344.48 L463.38,344.56 L464.38,344.63 L465.38,344.70 L466.38,344.75 L467.38,344.81 L468.38,344.85 L469.38,344.89 L470.39,344.92 L471.39,344.94 L472.39,344.96 L473.39,344.97 L474.39,344.98 L475.39,344.98 L476.39,344.98 L477.39,344.97 L478.39,344.95 L479.39,344.94 L480.39,344.92 L481.39,344.89 L482.39,344.86 L483.39,344.83 L484.39,344.79 L485.39,344.75 L486.39,344.71 L487.39,344.67 L488.39,344.62 L489.39,344.57 L490.39,344.52 L491.39,344.47 L492.39,344.41 L493.39,344.36 L494.39,344.30 L495.39,344.25 L496.39,344.19 L497.39,344.13 L498.39,344.08 L499.39,344.02 L500.39,343.96 L501.39,343.91 L502.39,343.85 L503.39,343.80 L504.39,343.75 L505.39,343.70 L506.39,343.65 L507.39,343.60 L508.39,343.55 L509.39,343.51 L510.39,343.47 L511.39,343.44 L512.39,343.40 L513.39,343.38 L514.39,343.35 L515.39,343.33 L516.40,343.31 L517.40,343.30 L518.40,343.29 L519.40,343.28 L520.40,343.29 L521.40,343.29 L522.40,343.30 L523.40,343.32 L524.40,343.35 L525.40,343.38 L526.40,343.41 L527.40,343.46 L528.40,343.51 L529.40,343.56 L530.40,343.63 L531.40,343.70 L532.40,343.78 L533.40,343.87 L534.40,343.97 L535.40,344.07 L536.40,344.19 L537.40,344.31 L538.40,344.44 L538.90,344.51" fill="none" stroke="#000000" stroke-width="2.70" stroke-linecap="round" stroke-linejoin="round"/>
<path d="M81.30,308.83 L82.30,307.85 L83.30,306.88 L84.30,305.93 L85.30,305.00 L86.30,304.09 L87.30,303.22 L88.30,302.39 L89.30,301.61 L90.30,300.87 L91.30,300.19 L92.30,299.58 L93.30,299.02 L94.30,298.54 L95.30,298.12 L96.30,297.77 L97.30,297.47 L98.30,297.25 L99.30,297.08 L100.30,296.97 L101.30,296.91 L102.30,296.89 L103.30,296.90 L104.31,296.96 L105.31,297.06 L106.31,297.22 L107.31,297.44 L108.31,297.72 L109.31,298.06 L110.31,298.44 L111.31,298.87 L112.31,299.32 L113.31,299.81 L114.31,300.31 L115.31,300.84 L116.31,301.40 L117.31,301.97 L118.31,302.55 L119.31,303.13 L120.31,303.69 L121.31,304.23 L122.31,304.72 L123.31,305.17 L124.31,305.57 L125.31,305.93 L126.31,306.25 L127.31,306.54 L128.31,306.80 L129.31,307.05 L130.31,307.28 L131.31,307.49 L132.31,307.70 L133.31,307.89 L134.31,308.04 L135.31,308.15 L136.31,308.22 L137.31,308.24 L138.31,308.21 L139.31,308.13 L140.31,308.01 L141.31,307.82 L142.31,307.57 L143.31,307.23 L144.31,306.81 L145.31,306.30 L146.31,305.70 L147.31,305.01 L148.31,304.22 L149.31,303.34 L150.32,302.37 L151.32,301.32 L152.32,300.19 L153.32,298.99 L154.32,297.71 L155.32,296.32 L156.32,294.81 L157.32,293.16 L158.32,291.34 L159.32,289.38 L160.32,287.28 L161.32,285.12 L162.32,282.92 L163.32,280.74 L164.32,278.61 L165.32,276.54 L166.32,274.52 L167.32,272.54 L168.32,270.58 L169.32,268.62 L170.32,266.66 L171.32,264.70 L172.32,262.75 L173.32,260.81 L174.32,258.89 L175.32,256.99 L176.32,255.11 L177.32,253.26 L178.32,251.43 L179.32,249.62 L180.32,247.84 L181.32,246.08 L182.32,244.35 L183.32,242.64 L184.32,240.96 L185.32,239.31 L186.32,237.71 L187.32,236.16 L188.32,234.69 L189.32,233.30 L190.32,232.00 L191.32,230.78 L192.32,229.65 L193.32,228.61 L194.32,227.64 L195.32,226.77 L196.33,225.99 L197.33,225.30 L198.33,224.70 L199.33,224.19 L200.33,223.76 L201.33,223.42 L202.33,223.16 L203.33,222.99 L204.33,222.91 L205.33,222.92 L206.33,223.02 L207.33,223.22 L208.33,223.51 L209.33,223.88 L210.33,224.34 L211.33,224.87 L212.33,225.46 L213.33,226.12 L214.33,226.83 L215.33,227.59 L216.33,228.41 L217.33,229.27 L218.33,230.19 L219.33,231.14 L220.33,232.13 L221.33,233.16 L222.33,234.20 L223.33,235.27 L224.33,236.35 L225.33,237.43 L226.33,238.52 L227.33,239.60 L228.33,240.68 L229.33,241.75 L230.33,242.80 L231.33,243.84 L232.33,244.86 L233.33,245.86 L234.33,246.84 L235.33,247.79 L236.33,248.71 L237.33,249.61 L238.33,250.49 L239.33,251.35 L240.33,252.20 L241.33,253.05 L242.34,253.90 L243.34,254.76 L244.34,255.63 L245.34,256.51 L246.34,257.39 L247.34,258.25 L248.34,259.10 L249.34,259.91 L250.34,260.70 L251.34,261.46 L252.34,262.19 L253.34,262.88 L254.34,263.54 L255.34,264.18 L256.34,264.79 L257.34,265.38 L258.34,265.97 L259.34,266.56 L260.34,267.16 L261.34,267.77 L262.34,268.41 L263.34,269.07 L264.34,269.76 L265.34,270.47 L266.34,271.20 L267.34,271.95 L268.34,272.70 L269.34,273.47 L270.34,274.23 L271.34,274.98 L272.34,275.72 L273.34,276.45 L274.34,277.18 L275.34,277.92 L276.34,278.67 L277.34,279.44 L278.34,280.22 L279.34,281.01 L280.34,281.81 L281.34,282.61 L282.34,283.41 L283.34,284.22 L284.34,285.04 L285.34,285.88 L286.34,286.74 L287.35,287.61 L288.35,288.47 L289.35,289.32 L290.35,290.14 L291.35,290.93 L292.35,291.69 L293.35,292.43 L294.35,293.17 L295.35,293.92 L296.35,294.67 L297.35,295.42 L298.35,296.15 L299.35,296.85 L300.35,297.48 L301.35,298.04 L302.35,298.53 L303.35,298.98 L304.35,299.42 L305.35,299.88 L306.35,300.39 L307.35,300.95 L308.35,301.54 L309.35,302.14 L310.35,302.75 L311.35,303.36 L312.35,303.96 L313.35,304.57 L314.35,305.19 L315.35,305.82 L316.35,306.47 L317.35,307.12 L318.35,307.78 L319.35,308.44 L320.35,309.08 L321.35,309.70 L322.35,310.30 L323.35,310.87 L324.35,311.42 L325.35,311.95 L326.35,312.48 L327.35,313.00 L328.35,313.52 L329.35,314.05 L330.35,314.57 L331.35,315.10 L332.35,315.63 L333.36,316.14 L334.36,316.64 L335.36,317.12 L336.36,317.59 L337.36,318.04 L338.36,318.49 L339.36,318.93 L340.36,319.36 L341.36,319.78 L342.36,320.18 L343.36,320.56 L344.36,320.93 L345.36,321.28 L346.36,321.62 L347.36,321.96 L348.36,322.32 L349.36,322.68 L350.36,323.07 L351.36,323.48 L352.36,323.89 L353.36,324.31 L354.36,324.72 L355.36,325.12 L356.36,325.50 L357.36,325.88 L358.36,326.24 L359.36,326.60 L360.36,326.95 L361.36,327.30 L362.36,327.65 L363.36,327.99 L364.36,328.34 L365.36,328.68 L366.36,329.02 L367.36,329.35 L368.36,329.68 L369.36,330.01 L370.36,330.34 L371.36,330.67 L372.36,331.00 L373.36,331.32 L374.36,331.65 L375.36,331.98 L376.36,332.31 L377.36,332.64 L378.36,332.99 L379.37,333.33 L380.37,333.68 L381.37,334.03 L382.37,334.39 L383.37,334.74 L384.37,335.09 L385.37,335.44 L386.37,335.79 L387.37,336.14 L388.37,336.48 L389.37,336.82 L390.37,337.16 L391.37,337.48 L392.37,337.79 L393.37,338.10 L394.37,338.40 L395.37,338.70 L396.37,338.99 L397.37,339.27 L398.37,339.55 L399.37,339.82 L400.37,340.08 L401.37,340.34 L402.37,340.58 L403.37,340.82 L404.37,341.04 L405.37,341.26 L406.37,341.47 L407.37,341.66 L408.37,341.85 L409.37,342.03 L410.37,342.21 L411.37,342.37 L412.37,342.53 L413.37,342.69 L414.37,342.84 L415.37,342.98 L416.37,343.12 L417.37,343.25 L418.37,343.39 L419.37,343.52 L420.37,343.64 L421.37,343.77 L422.37,343.88 L423.37,344.00 L424.37,344.12 L425.38,344.23 L426.38,344.34 L427.38,344.44 L428.38,344.53 L429.38,344.62 L430.38,344.69 L431.38,344.75 L432.38,344.80 L433.38,344.84 L434.38,344.87 L435.38,344.90 L436.38,344.92 L437.38,344.95 L438.38,344.97 L439.38,344.99 L440.38,345.01 L441.38,345.04 L442.38,345.06 L443.38,345.08 L444.38,345.11 L445.38,345.13 L446.38,345.15 L447.38,345.17 L448.38,345.19 L449.38,345.21 L450.38,345.22 L451.38,345.24 L452.38,345.25 L453.38,345.26 L454.38,345.27 L455.38,345.28 L456.38,345.29 L457.38,345.29 L458.38,345.30 L459.38,345.30 L460.38,345.30 L461.38,345.30 L462.38,345.30 L463.38,345.30 L464.38,345.30 L465.38,345.31 L466.38,345.31 L467.38,345.32 L468.38,345.34 L469.38,345.35 L470.39,345.37 L471.39,345.40 L472.39,345.42 L473.39,345.45 L474.39,345.48 L475.39,345.51 L476.39,345.54 L477.39,345.57 L478.39,345.61 L479.39,345.64 L480.39,345.68 L481.39,345.71 L482.39,345.75 L483.39,345.79 L484.39,345.83 L485.39,345.87 L486.39,345.91 L487.39,345.96 L488.39,346.00 L489.39,346.05 L490.39,346.10 L491.39,346.15 L492.39,346.20 L493.39,346.25 L494.39,346.30 L495.39,346.36 L496.39,346.41 L497.39,346.46 L498.39,346.51 L499.39,346.56 L500.39,346.61 L501.39,346.65 L502.39,346.70 L503.39,346.74 L504.39,346.80 L505.39,346.86 L506.39,346.93 L507.39,347.01 L508.39,347.10 L509.39,347.19 L510.39,347.29 L511.39,347.40 L512.39,347.51 L513.39,347.62 L514.39,347.74 L515.39,347.85 L516.40,347.96 L517.40,348.08 L518.40,348.20 L519.40,348.31 L520.40,348.43 L521.40,348.54 L522.40,348.64 L523.40,348.74 L524.40,348.83 L525.40,348.91 L526.40,348.99 L527.40,349.06 L528.40,349.12 L529.40,349.19 L530.40,349.25 L531.40,349.30 L532.40,349.36 L533.40,349.40 L534.40,349.45 L535.40,349.49 L536.40,349.52 L537.40,349.55 L538.40,349.58 L538.90,349.59" fill="none" stroke="#999999" stroke-width="2.70" stroke-linecap="round" stroke-linejoin="round"/>
<path d="M81.30,282.73 L82.30,281.85 L83.30,280.97 L84.30,280.11 L85.30,279.26 L86.30,278.42 L87.30,277.59 L88.30,276.78 L89.30,275.99 L90.30,275.22 L91.30,274.47 L92.30,273.75 L93.30,273.06 L94.30,272.42 L95.30,271.83 L96.30,271.28 L97.30,270.77 L98.30,270.31 L99.30,269.90 L100.30,269.52 L101.30,269.18 L102.30,268.89 L103.30,268.63 L104.31,268.42 L105.31,268.25 L106.31,268.12 L107.31,268.02 L108.31,267.95 L109.31,267.90 L110.31,267.87 L111.31,267.87 L112.31,267.87 L113.31,267.89 L114.31,267.92 L115.31,267.97 L116.31,268.03 L117.31,268.10 L118.31,268.18 L119.31,268.28 L120.31,268.39 L121.31,268.51 L122.31,268.64 L123.31,268.79 L124.31,268.95 L125.31,269.12 L126.31,269.31 L127.31,269.51 L128.31,269.73 L129.31,269.96 L130.31,270.19 L131.31,270.42 L132.31,270.64 L133.31,270.84 L134.31,271.03 L135.31,271.21 L136.31,271.36 L137.31,271.50 L138.31,271.63 L139.31,271.74 L140.31,271.84 L141.31,271.92 L142.31,271.99 L143.31,272.04 L144.31,272.08 L145.31,272.11 L146.31,272.12 L147.31,272.12 L148.31,272.10 L149.31,272.07 L150.32,272.02 L151.32,271.95 L152.32,271.88 L153.32,271.78 L154.32,271.67 L155.32,271.55 L156.32,271.40 L157.32,271.22 L158.32,271.03 L159.32,270.81 L160.32,270.57 L161.32,270.32 L162.32,270.06 L163.32,269.80 L164.32,269.55 L165.32,269.30 L166.32,269.06 L167.32,268.82 L168.32,268.60 L169.32,268.37 L170.32,268.16 L171.32,267.95 L172.32,267.74 L173.32,267.53 L174.32,267.33 L175.32,267.13 L176.32,266.92 L177.32,266.72 L178.32,266.51 L179.32,266.29 L180.32,266.07 L181.32,265.86 L182.32,265.65 L183.32,265.44 L184.32,265.25 L185.32,265.08 L186.32,264.92 L187.32,264.79 L188.32,264.67 L189.32,264.57 L190.32,264.48 L191.32,264.40 L192.32,264.34 L193.32,264.29 L194.32,264.24 L195.32,264.21 L196.33,264.19 L197.33,264.19 L198.33,264.20 L199.33,264.24 L200.33,264.29 L201.33,264.36 L202.33,264.46 L203.33,264.57 L204.33,264.69 L205.33,264.83 L206.33,264.98 L207.33,265.14 L208.33,265.32 L209.33,265.50 L210.33,265.69 L211.33,265.89 L212.33,266.09 L213.33,266.30 L214.33,266.52 L215.33,266.74 L216.33,266.97 L217.33,267.21 L218.33,267.48 L219.33,267.76 L220.33,268.08 L221.33,268.42 L222.33,268.80 L223.33,269.19 L224.33,269.61 L225.33,270.05 L226.33,270.50 L227.33,270.95 L228.33,271.41 L229.33,271.87 L230.33,272.33 L231.33,272.78 L232.33,273.23 L233.33,273.68 L234.33,274.13 L235.33,274.58 L236.33,275.03 L237.33,275.48 L238.33,275.93 L239.33,276.39 L240.33,276.86 L241.33,277.33 L242.34,277.81 L243.34,278.30 L244.34,278.79 L245.34,279.29 L246.34,279.78 L247.34,280.29 L248.34,280.79 L249.34,281.29 L250.34,281.79 L251.34,282.30 L252.34,282.81 L253.34,283.34 L254.34,283.90 L255.34,284.48 L256.34,285.11 L257.34,285.77 L258.34,286.45 L259.34,287.16 L260.34,287.86 L261.34,288.55 L262.34,289.22 L263.34,289.87 L264.34,290.49 L265.34,291.08 L266.34,291.65 L267.34,292.21 L268.34,292.76 L269.34,293.30 L270.34,293.84 L271.34,294.37 L272.34,294.90 L273.34,295.44 L274.34,295.98 L275.34,296.53 L276.34,297.08 L277.34,297.63 L278.34,298.19 L279.34,298.76 L280.34,299.32 L281.34,299.88 L282.34,300.44 L283.34,301.00 L284.34,301.55 L285.34,302.09 L286.34,302.64 L287.35,303.18 L288.35,303.73 L289.35,304.27 L290.35,304.82 L291.35,305.38 L292.35,305.94 L293.35,306.50 L294.35,307.05 L295.35,307.60 L296.35,308.14 L297.35,308.66 L298.35,309.15 L299.35,309.60 L300.35,310.02 L301.35,310.40 L302.35,310.75 L303.35,311.09 L304.35,311.44 L305.35,311.82 L306.35,312.24 L307.35,312.70 L308.35,313.17 L309.35,313.66 L310.35,314.14 L311.35,314.60 L312.35,315.05 L313.35,315.47 L314.35,315.89 L315.35,316.29 L316.35,316.68 L317.35,317.06 L318.35,317.43 L319.35,317.79 L320.35,318.15 L321.35,318.51 L322.35,318.86 L323.35,319.20 L324.35,319.54 L325.35,319.87 L326.35,320.20 L327.35,320.52 L328.35,320.83 L329.35,321.14 L330.35,321.44 L331.35,321.75 L332.35,322.04 L333.36,322.33 L334.36,322.62 L335.36,322.89 L336.36,323.16 L337.36,323.41 L338.36,323.66 L339.36,323.91 L340.36,324.14 L341.36,324.38 L342.36,324.60 L343.36,324.83 L344.36,325.04 L345.36,325.26 L346.36,325.46 L347.36,325.67 L348.36,325.86 L349.36,326.06 L350.36,326.25 L351.36,326.44 L352.36,326.62 L353.36,326.81 L354.36,327.00 L355.36,327.19 L356.36,327.39 L357.36,327.59 L358.36,327.79 L359.36,328.00 L360.36,328.21 L361.36,328.42 L362.36,328.64 L363.36,328.86 L364.36,329.08 L365.36,329.31 L366.36,329.55 L367.36,329.80 L368.36,330.04 L369.36,330.29 L370.36,330.53 L371.36,330.78 L372.36,331.02 L373.36,331.26 L374.36,331.51 L375.36,331.76 L376.36,332.01 L377.36,332.27 L378.36,332.53 L379.37,332.79 L380.37,333.06 L381.37,333.34 L382.37,333.62 L383.37,333.90 L384.37,334.18 L385.37,334.45 L386.37,334.72 L387.37,334.98 L388.37,335.22 L389.37,335.45 L390.37,335.66 L391.37,335.86 L392.37,336.05 L393.37,336.24 L394.37,336.42 L395.37,336.60 L396.37,336.79 L397.37,336.98 L398.37,337.18 L399.37,337.39 L400.37,337.60 L401.37,337.81 L402.37,338.03 L403.37,338.25 L404.37,338.48 L405.37,338.71 L406.37,338.94 L407.37,339.18 L408.37,339.42 L409.37,339.67 L410.37,339.92 L411.37,340.17 L412.37,340.43 L413.37,340.68 L414.37,340.94 L415.37,341.19 L416.37,341.44 L417.37,341.68 L418.37,341.91 L419.37,342.14 L420.37,342.37 L421.37,342.59 L422.37,342.81 L423.37,343.03 L424.37,343.25 L425.38,343.46 L426.38,343.68 L427.38,343.90 L428.38,344.12 L429.38,344.33 L430.38,344.55 L431.38,344.76 L432.38,344.96 L433.38,345.16 L434.38,345.36 L435.38,345.55 L436.38,345.74 L437.38,345.92 L438.38,346.10 L439.38,346.27 L440.38,346.43 L441.38,346.59 L442.38,346.75 L443.38,346.90 L444.38,347.05 L445.38,347.20 L446.38,347.34 L447.38,347.47 L448.38,347.60 L449.38,347.71 L450.38,347.82 L451.38,347.92 L452.38,348.01 L453.38,348.09 L454.38,348.17 L455.38,348.24 L456.38,348.31 L457.38,348.37 L458.38,348.43 L459.38,348.48 L460.38,348.54 L461.38,348.58 L462.38,348.63 L463.38,348.68 L464.38,348.72 L465.38,348.77 L466.38,348.81 L467.38,348.86 L468.38,348.91 L469.38,348.96 L470.39,349.00 L471.39,349.05 L472.39,349.09 L473.39,349.13 L474.39,349.16 L475.39,349.19 L476.39,349.21 L477.39,349.23 L478.39,349.25 L479.39,349.26 L480.39,349.28 L481.39,349.29 L482.39,349.30 L483.39,349.31 L484.39,349.32 L485.39,349.33 L486.39,349.33 L487.39,349.34 L488.39,349.35 L489.39,349.36 L490.39,349.37 L491.39,349.38 L492.39,349.39 L493.39,349.40 L494.39,349.41 L495.39,349.43 L496.39,349.44 L497.39,349.47 L498.39,349.49 L499.39,349.52 L500.39,349.56 L501.39,349.60 L502.39,349.65 L503.39,349.69 L504.39,349.72 L505.39,349.76 L506.39,349.78 L507.39,349.80 L508.39,349.81 L509.39,349.82 L510.39,349.83 L511.39,349.84 L512.39,349.84 L513.39,349.85 L514.39,349.85 L515.39,349.86 L516.40,349.86 L517.40,349.87 L518.40,349.87 L519.40,349.87 L520.40,349.88 L521.40,349.88 L522.40,349.88 L523.40,349.88 L524.40,349.89 L525.40,349.89 L526.40,349.89 L527.40,349.89 L528.40,349.89 L529.40,349.89 L530.40,349.90 L531.40,349.90 L532.40,349.90 L533.40,349.90 L534.40,349.90 L535.40,349.90 L536.40,349.90 L537.40,349.90 L538.40,349.90 L538.90,349.90" fill="none" stroke="#CC79A7" stroke-width="2.70" stroke-linecap="round" stroke-linejoin="round"/>
<line x1="307.3" x2="307.3" y1="357.70" y2="183.00" stroke="#000" stroke-width="1.5"/>
<line x1="373.2" x2="373.2" y1="357.70" y2="183.00" stroke="#000" stroke-width="1.5" stroke-dasharray="1.95 5.85 7.8 5.85" stroke-dashoffset="0.75"/>
</g>
<rect x="58.96" y="183.00" width="501.44" height="174.70" fill="none" stroke="#B3B3B3" stroke-width="1.1"/>
<rect x="560.40" y="182.70" width="24.20" height="175.20" fill="#B3B3B3"/>
<text x="0" y="0" transform="translate(572.4,270.35) rotate(90)" text-anchor="middle" dominant-baseline="central" fill="#fff" font-size="12.1">Diurnal arboreal</text>
<line x1="55" x2="58.96" y1="350.00" y2="350.00" stroke="#B3B3B3" stroke-width="1"/>
<text x="52.1" y="354.40" text-anchor="end" fill="#4D4D4D" stroke="#4D4D4D" stroke-width="0.3" font-size="12.3">0.00</text>
<line x1="55" x2="58.96" y1="298.73" y2="298.73" stroke="#B3B3B3" stroke-width="1"/>
<text x="52.1" y="303.13" text-anchor="end" fill="#4D4D4D" stroke="#4D4D4D" stroke-width="0.3" font-size="12.3">0.04</text>
<line x1="55" x2="58.96" y1="247.46" y2="247.46" stroke="#B3B3B3" stroke-width="1"/>
<text x="52.1" y="251.86" text-anchor="end" fill="#4D4D4D" stroke="#4D4D4D" stroke-width="0.3" font-size="12.3">0.08</text>
<line x1="55" x2="58.96" y1="196.20" y2="196.20" stroke="#B3B3B3" stroke-width="1"/>
<text x="52.1" y="200.60" text-anchor="end" fill="#4D4D4D" stroke="#4D4D4D" stroke-width="0.3" font-size="12.3">0.12</text>
<defs><clipPath id="c2"><rect x="58.96" y="365.60" width="501.44" height="174.70"/></clipPath></defs>
<g clip-path="url(#c2)">
<line x1="58.96" x2="560.40" y1="506.97" y2="506.97" stroke="#EEEEEE" stroke-width="1"/>
<line x1="58.96" x2="560.40" y1="455.70" y2="455.70" stroke="#EEEEEE" stroke-width="1"/>
<line x1="58.96" x2="560.40" y1="404.43" y2="404.43" stroke="#EEEEEE" stroke-width="1"/>
<line x1="158.88" x2="158.88" y1="365.60" y2="540.30" stroke="#EEEEEE" stroke-width="1"/>
<line x1="323.83" x2="323.83" y1="365.60" y2="540.30" stroke="#EEEEEE" stroke-width="1"/>
<line x1="488.77" x2="488.77" y1="365.60" y2="540.30" stroke="#EEEEEE" stroke-width="1"/>
<line x1="58.96" x2="560.40" y1="532.60" y2="532.60" stroke="#DEDEDE" stroke-width="1"/>
<line x1="58.96" x2="560.40" y1="481.33" y2="481.33" stroke="#DEDEDE" stroke-width="1"/>
<line x1="58.96" x2="560.40" y1="430.06" y2="430.06" stroke="#DEDEDE" stroke-width="1"/>
<line x1="58.96" x2="560.40" y1="378.80" y2="378.80" stroke="#DEDEDE" stroke-width="1"/>
<line x1="76.40" x2="76.40" y1="365.60" y2="540.30" stroke="#DEDEDE" stroke-width="1"/>
<line x1="241.35" x2="241.35" y1="365.60" y2="540.30" stroke="#DEDEDE" stroke-width="1"/>
<line x1="406.30" x2="406.30" y1="365.60" y2="540.30" stroke="#DEDEDE" stroke-width="1"/>
<path d="M81.10,494.35 L82.10,493.61 L83.10,492.86 L84.10,492.13 L85.10,491.39 L86.10,490.66 L87.11,489.94 L88.11,489.22 L89.11,488.50 L90.11,487.79 L91.11,487.08 L92.11,486.37 L93.11,485.67 L94.11,484.97 L95.11,484.28 L96.11,483.60 L97.11,482.92 L98.11,482.24 L99.12,481.57 L100.12,480.90 L101.12,480.24 L102.12,479.59 L103.12,478.93 L104.12,478.29 L105.12,477.65 L106.12,477.02 L107.12,476.39 L108.12,475.77 L109.12,475.15 L110.13,474.55 L111.13,473.94 L112.13,473.35 L113.13,472.76 L114.13,472.17 L115.13,471.60 L116.13,471.03 L117.13,470.46 L118.13,469.91 L119.13,469.36 L120.13,468.82 L121.14,468.28 L122.14,467.75 L123.14,467.23 L124.14,466.72 L125.14,466.22 L126.14,465.72 L127.14,465.23 L128.14,464.75 L129.14,464.28 L130.14,463.81 L131.14,463.36 L132.14,462.91 L133.15,462.47 L134.15,462.04 L135.15,461.61 L136.15,461.20 L137.15,460.80 L138.15,460.40 L139.15,460.01 L140.15,459.63 L141.15,459.27 L142.15,458.91 L143.15,458.56 L144.16,458.22 L145.16,457.89 L146.16,457.57 L147.16,457.25 L148.16,456.95 L149.16,456.66 L150.16,456.38 L151.16,456.11 L152.16,455.85 L153.16,455.59 L154.16,455.35 L155.16,455.12 L156.17,454.89 L157.17,454.68 L158.17,454.47 L159.17,454.27 L160.17,454.09 L161.17,453.91 L162.17,453.74 L163.17,453.58 L164.17,453.43 L165.17,453.29 L166.17,453.15 L167.18,453.03 L168.18,452.91 L169.18,452.81 L170.18,452.71 L171.18,452.62 L172.18,452.54 L173.18,452.47 L174.18,452.41 L175.18,452.35 L176.18,452.31 L177.18,452.27 L178.18,452.24 L179.19,452.22 L180.19,452.21 L181.19,452.20 L182.19,452.20 L183.19,452.22 L184.19,452.24 L185.19,452.27 L186.19,452.30 L187.19,452.35 L188.19,452.40 L189.19,452.46 L190.20,452.53 L191.20,452.60 L192.20,452.68 L193.20,452.77 L194.20,452.87 L195.20,452.98 L196.20,453.09 L197.20,453.21 L198.20,453.34 L199.20,453.48 L200.20,453.62 L201.21,453.77 L202.21,453.93 L203.21,454.10 L204.21,454.27 L205.21,454.45 L206.21,454.63 L207.21,454.83 L208.21,455.03 L209.21,455.23 L210.21,455.45 L211.21,455.67 L212.21,455.89 L213.22,456.12 L214.22,456.36 L215.22,456.60 L216.22,456.84 L217.22,457.09 L218.22,457.35 L219.22,457.61 L220.22,457.87 L221.22,458.14 L222.22,458.41 L223.22,458.68 L224.23,458.96 L225.23,459.24 L226.23,459.53 L227.23,459.82 L228.23,460.11 L229.23,460.40 L230.23,460.69 L231.23,460.99 L232.23,461.29 L233.23,461.58 L234.23,461.88 L235.23,462.19 L236.24,462.49 L237.24,462.79 L238.24,463.10 L239.24,463.40 L240.24,463.70 L241.24,464.01 L242.24,464.31 L243.24,464.61 L244.24,464.92 L245.24,465.22 L246.24,465.52 L247.25,465.82 L248.25,466.11 L249.25,466.41 L250.25,466.70 L251.25,467.00 L252.25,467.29 L253.25,467.58 L254.25,467.86 L255.25,468.15 L256.25,468.44 L257.25,468.72 L258.25,469.00 L259.26,469.29 L260.26,469.57 L261.26,469.84 L262.26,470.12 L263.26,470.40 L264.26,470.67 L265.26,470.94 L266.26,471.21 L267.26,471.48 L268.26,471.75 L269.26,472.02 L270.27,472.28 L271.27,472.55 L272.27,472.81 L273.27,473.07 L274.27,473.33 L275.27,473.59 L276.27,473.85 L277.27,474.10 L278.27,474.35 L279.27,474.61 L280.27,474.86 L281.28,475.11 L282.28,475.35 L283.28,475.60 L284.28,475.85 L285.28,476.09 L286.28,476.33 L287.28,476.57 L288.28,476.81 L289.28,477.05 L290.28,477.28 L291.28,477.52 L292.28,477.75 L293.29,477.99 L294.29,478.22 L295.29,478.45 L296.29,478.68 L297.29,478.90 L298.29,479.13 L299.29,479.36 L300.29,479.58 L301.29,479.81 L302.29,480.03 L303.29,480.26 L304.30,480.48 L305.30,480.70 L306.30,480.92 L307.30,481.15 L308.30,481.37 L309.30,481.59 L310.30,481.81 L311.30,482.03 L312.30,482.25 L313.30,482.47 L314.30,482.69 L315.30,482.91 L316.31,483.13 L317.31,483.36 L318.31,483.58 L319.31,483.80 L320.31,484.02 L321.31,484.24 L322.31,484.47 L323.31,484.69 L324.31,484.92 L325.31,485.14 L326.31,485.37 L327.32,485.60 L328.32,485.82 L329.32,486.05 L330.32,486.28 L331.32,486.51 L332.32,486.74 L333.32,486.98 L334.32,487.21 L335.32,487.45 L336.32,487.68 L337.32,487.92 L338.32,488.16 L339.33,488.40 L340.33,488.65 L341.33,488.89 L342.33,489.14 L343.33,489.39 L344.33,489.64 L345.33,489.89 L346.33,490.14 L347.33,490.40 L348.33,490.66 L349.33,490.92 L350.34,491.18 L351.34,491.44 L352.34,491.71 L353.34,491.98 L354.34,492.25 L355.34,492.53 L356.34,492.80 L357.34,493.08 L358.34,493.37 L359.34,493.65 L360.34,493.94 L361.35,494.23 L362.35,494.52 L363.35,494.82 L364.35,495.12 L365.35,495.42 L366.35,495.73 L367.35,496.04 L368.35,496.35 L369.35,496.66 L370.35,496.98 L371.35,497.31 L372.35,497.63 L373.36,497.96 L374.36,498.29 L375.36,498.63 L376.36,498.97 L377.36,499.31 L378.36,499.65 L379.36,500.00 L380.36,500.35 L381.36,500.70 L382.36,501.05 L383.36,501.41 L384.37,501.77 L385.37,502.13 L386.37,502.49 L387.37,502.85 L388.37,503.22 L389.37,503.59 L390.37,503.96 L391.37,504.33 L392.37,504.70 L393.37,505.07 L394.37,505.44 L395.37,505.82 L396.38,506.19 L397.38,506.57 L398.38,506.95 L399.38,507.32 L400.38,507.70 L401.38,508.08 L402.38,508.46 L403.38,508.84 L404.38,509.21 L405.38,509.59 L406.38,509.97 L407.39,510.35 L408.39,510.72 L409.39,511.10 L410.39,511.47 L411.39,511.85 L412.39,512.22 L413.39,512.60 L414.39,512.97 L415.39,513.34 L416.39,513.71 L417.39,514.07 L418.39,514.44 L419.40,514.81 L420.40,515.17 L421.40,515.53 L422.40,515.89 L423.40,516.24 L424.40,516.60 L425.40,516.95 L426.40,517.30 L427.40,517.65 L428.40,517.99 L429.40,518.34 L430.41,518.68 L431.41,519.01 L432.41,519.34 L433.41,519.67 L434.41,520.00 L435.41,520.32 L436.41,520.64 L437.41,520.96 L438.41,521.27 L439.41,521.58 L440.41,521.89 L441.42,522.19 L442.42,522.48 L443.42,522.78 L444.42,523.07 L445.42,523.35 L446.42,523.63 L447.42,523.90 L448.42,524.18 L449.42,524.44 L450.42,524.70 L451.42,524.96 L452.42,525.22 L453.43,525.47 L454.43,525.71 L455.43,525.95 L456.43,526.19 L457.43,526.42 L458.43,526.65 L459.43,526.87 L460.43,527.09 L461.43,527.31 L462.43,527.52 L463.43,527.73 L464.44,527.93 L465.44,528.13 L466.44,528.32 L467.44,528.51 L468.44,528.70 L469.44,528.88 L470.44,529.06 L471.44,529.23 L472.44,529.40 L473.44,529.57 L474.44,529.73 L475.44,529.89 L476.45,530.04 L477.45,530.19 L478.45,530.33 L479.45,530.47 L480.45,530.61 L481.45,530.74 L482.45,530.87 L483.45,531.00 L484.45,531.12 L485.45,531.23 L486.45,531.35 L487.46,531.45 L488.46,531.56 L489.46,531.66 L490.46,531.75 L491.46,531.85 L492.46,531.93 L493.46,532.02 L494.46,532.10 L495.46,532.18 L496.46,532.25 L497.46,532.32 L498.46,532.38 L499.47,532.44 L500.47,532.50 L501.47,532.55 L502.47,532.60 L503.47,532.64 L504.47,532.68 L505.47,532.72 L506.47,532.75 L507.47,532.78 L508.47,532.81 L509.47,532.83 L510.48,532.84 L511.48,532.86 L512.48,532.87 L513.48,532.87 L514.48,532.87 L515.48,532.87 L516.48,532.87 L517.48,532.86 L518.48,532.84 L519.48,532.82 L520.48,532.80 L521.49,532.78 L522.49,532.75 L523.49,532.72 L524.49,532.68 L525.49,532.64 L526.49,532.60 L527.49,532.55 L528.49,532.50 L529.49,532.44 L530.49,532.38 L531.49,532.32 L532.49,532.25 L533.50,532.18 L534.50,532.11 L535.50,532.03 L536.50,531.95 L537.50,531.86 L538.50,531.77" fill="none" stroke="#E69F00" stroke-width="2.70" stroke-linecap="round" stroke-linejoin="round"/>
<path d="M81.10,500.57 L82.10,499.96 L83.10,499.38 L84.10,498.83 L85.10,498.31 L86.10,497.81 L87.10,497.34 L88.10,496.89 L89.10,496.47 L90.10,496.07 L91.10,495.70 L92.10,495.34 L93.11,495.01 L94.11,494.70 L95.11,494.41 L96.11,494.13 L97.11,493.88 L98.11,493.64 L99.11,493.42 L100.11,493.21 L101.11,493.02 L102.11,492.84 L103.11,492.67 L104.11,492.52 L105.11,492.38 L106.11,492.25 L107.11,492.13 L108.11,492.02 L109.11,491.91 L110.11,491.82 L111.11,491.73 L112.11,491.65 L113.11,491.57 L114.11,491.50 L115.11,491.43 L116.12,491.36 L117.12,491.29 L118.12,491.23 L119.12,491.17 L120.12,491.10 L121.12,491.04 L122.12,490.97 L123.12,490.90 L124.12,490.83 L125.12,490.75 L126.12,490.67 L127.12,490.58 L128.12,490.48 L129.12,490.38 L130.12,490.27 L131.12,490.15 L132.12,490.02 L133.12,489.87 L134.12,489.72 L135.12,489.56 L136.12,489.38 L137.12,489.18 L138.12,488.98 L139.13,488.75 L140.13,488.52 L141.13,488.26 L142.13,487.98 L143.13,487.69 L144.13,487.38 L145.13,487.04 L146.13,486.69 L147.13,486.31 L148.13,485.92 L149.13,485.49 L150.13,485.05 L151.13,484.58 L152.13,484.08 L153.13,483.56 L154.13,483.02 L155.13,482.46 L156.13,481.88 L157.13,481.27 L158.13,480.65 L159.13,480.02 L160.13,479.36 L161.13,478.69 L162.14,478.01 L163.14,477.31 L164.14,476.60 L165.14,475.87 L166.14,475.14 L167.14,474.40 L168.14,473.64 L169.14,472.88 L170.14,472.11 L171.14,471.33 L172.14,470.55 L173.14,469.76 L174.14,468.97 L175.14,468.18 L176.14,467.38 L177.14,466.59 L178.14,465.79 L179.14,465.00 L180.14,464.20 L181.14,463.41 L182.14,462.62 L183.14,461.84 L184.15,461.06 L185.15,460.29 L186.15,459.53 L187.15,458.77 L188.15,458.03 L189.15,457.29 L190.15,456.57 L191.15,455.85 L192.15,455.15 L193.15,454.46 L194.15,453.79 L195.15,453.14 L196.15,452.49 L197.15,451.87 L198.15,451.27 L199.15,450.68 L200.15,450.12 L201.15,449.57 L202.15,449.05 L203.15,448.55 L204.15,448.07 L205.15,447.62 L206.15,447.20 L207.16,446.80 L208.16,446.42 L209.16,446.08 L210.16,445.75 L211.16,445.46 L212.16,445.18 L213.16,444.94 L214.16,444.71 L215.16,444.52 L216.16,444.35 L217.16,444.20 L218.16,444.08 L219.16,443.98 L220.16,443.91 L221.16,443.87 L222.16,443.85 L223.16,443.85 L224.16,443.88 L225.16,443.93 L226.16,444.01 L227.16,444.12 L228.16,444.24 L229.16,444.40 L230.17,444.57 L231.17,444.78 L232.17,445.00 L233.17,445.24 L234.17,445.50 L235.17,445.78 L236.17,446.08 L237.17,446.39 L238.17,446.71 L239.17,447.04 L240.17,447.38 L241.17,447.73 L242.17,448.08 L243.17,448.44 L244.17,448.81 L245.17,449.17 L246.17,449.53 L247.17,449.89 L248.17,450.25 L249.17,450.61 L250.17,450.95 L251.17,451.29 L252.17,451.62 L253.18,451.95 L254.18,452.27 L255.18,452.58 L256.18,452.88 L257.18,453.18 L258.18,453.47 L259.18,453.76 L260.18,454.04 L261.18,454.32 L262.18,454.59 L263.18,454.85 L264.18,455.11 L265.18,455.37 L266.18,455.62 L267.18,455.87 L268.18,456.12 L269.18,456.36 L270.18,456.60 L271.18,456.84 L272.18,457.07 L273.18,457.30 L274.18,457.53 L275.18,457.76 L276.19,457.98 L277.19,458.20 L278.19,458.43 L279.19,458.65 L280.19,458.87 L281.19,459.09 L282.19,459.31 L283.19,459.52 L284.19,459.74 L285.19,459.96 L286.19,460.18 L287.19,460.40 L288.19,460.63 L289.19,460.85 L290.19,461.07 L291.19,461.30 L292.19,461.53 L293.19,461.76 L294.19,461.99 L295.19,462.23 L296.19,462.47 L297.19,462.71 L298.19,462.95 L299.20,463.19 L300.20,463.44 L301.20,463.70 L302.20,463.95 L303.20,464.21 L304.20,464.47 L305.20,464.74 L306.20,465.01 L307.20,465.28 L308.20,465.56 L309.20,465.84 L310.20,466.12 L311.20,466.41 L312.20,466.71 L313.20,467.00 L314.20,467.31 L315.20,467.62 L316.20,467.93 L317.20,468.25 L318.20,468.57 L319.20,468.90 L320.20,469.23 L321.20,469.57 L322.21,469.92 L323.21,470.27 L324.21,470.62 L325.21,470.99 L326.21,471.35 L327.21,471.73 L328.21,472.11 L329.21,472.50 L330.21,472.89 L331.21,473.29 L332.21,473.70 L333.21,474.12 L334.21,474.54 L335.21,474.97 L336.21,475.41 L337.21,475.85 L338.21,476.30 L339.21,476.76 L340.21,477.22 L341.21,477.70 L342.21,478.17 L343.21,478.65 L344.21,479.14 L345.22,479.64 L346.22,480.13 L347.22,480.64 L348.22,481.14 L349.22,481.65 L350.22,482.17 L351.22,482.69 L352.22,483.21 L353.22,483.73 L354.22,484.26 L355.22,484.79 L356.22,485.32 L357.22,485.85 L358.22,486.38 L359.22,486.92 L360.22,487.46 L361.22,487.99 L362.22,488.53 L363.22,489.07 L364.22,489.60 L365.22,490.14 L366.22,490.67 L367.23,491.21 L368.23,491.74 L369.23,492.27 L370.23,492.80 L371.23,493.33 L372.23,493.85 L373.23,494.37 L374.23,494.89 L375.23,495.40 L376.23,495.92 L377.23,496.42 L378.23,496.93 L379.23,497.42 L380.23,497.92 L381.23,498.41 L382.23,498.89 L383.23,499.37 L384.23,499.85 L385.23,500.32 L386.23,500.79 L387.23,501.25 L388.23,501.71 L389.23,502.16 L390.24,502.61 L391.24,503.06 L392.24,503.50 L393.24,503.94 L394.24,504.37 L395.24,504.80 L396.24,505.22 L397.24,505.65 L398.24,506.06 L399.24,506.47 L400.24,506.88 L401.24,507.29 L402.24,507.69 L403.24,508.08 L404.24,508.48 L405.24,508.86 L406.24,509.25 L407.24,509.63 L408.24,510.00 L409.24,510.38 L410.24,510.75 L411.24,511.11 L412.24,511.47 L413.25,511.83 L414.25,512.18 L415.25,512.53 L416.25,512.88 L417.25,513.22 L418.25,513.56 L419.25,513.89 L420.25,514.22 L421.25,514.55 L422.25,514.87 L423.25,515.19 L424.25,515.51 L425.25,515.82 L426.25,516.13 L427.25,516.44 L428.25,516.74 L429.25,517.04 L430.25,517.33 L431.25,517.62 L432.25,517.91 L433.25,518.19 L434.25,518.48 L435.25,518.75 L436.26,519.03 L437.26,519.30 L438.26,519.57 L439.26,519.83 L440.26,520.09 L441.26,520.35 L442.26,520.60 L443.26,520.85 L444.26,521.10 L445.26,521.35 L446.26,521.59 L447.26,521.83 L448.26,522.06 L449.26,522.29 L450.26,522.52 L451.26,522.75 L452.26,522.97 L453.26,523.19 L454.26,523.41 L455.26,523.62 L456.26,523.83 L457.26,524.04 L458.26,524.24 L459.27,524.44 L460.27,524.64 L461.27,524.84 L462.27,525.03 L463.27,525.22 L464.27,525.41 L465.27,525.59 L466.27,525.78 L467.27,525.95 L468.27,526.13 L469.27,526.30 L470.27,526.47 L471.27,526.64 L472.27,526.81 L473.27,526.97 L474.27,527.13 L475.27,527.29 L476.27,527.44 L477.27,527.59 L478.27,527.74 L479.27,527.89 L480.27,528.03 L481.27,528.18 L482.28,528.32 L483.28,528.45 L484.28,528.59 L485.28,528.72 L486.28,528.85 L487.28,528.98 L488.28,529.10 L489.28,529.22 L490.28,529.34 L491.28,529.46 L492.28,529.58 L493.28,529.69 L494.28,529.80 L495.28,529.91 L496.28,530.01 L497.28,530.12 L498.28,530.22 L499.28,530.32 L500.28,530.42 L501.28,530.51 L502.28,530.61 L503.28,530.70 L504.28,530.79 L505.29,530.88 L506.29,530.96 L507.29,531.04 L508.29,531.12 L509.29,531.20 L510.29,531.28 L511.29,531.36 L512.29,531.43 L513.29,531.50 L514.29,531.57 L515.29,531.64 L516.29,531.71 L517.29,531.77 L518.29,531.83 L519.29,531.89 L520.29,531.95 L521.29,532.01 L522.29,532.06 L523.29,532.12 L524.29,532.17 L525.29,532.22 L526.29,532.27 L527.29,532.31 L528.30,532.36 L529.30,532.40 L530.30,532.45 L531.30,532.49 L532.30,532.53 L533.30,532.56 L534.30,532.60 L535.30,532.63 L536.30,532.67 L537.30,532.70 L538.30,532.73 L538.80,532.74" fill="none" stroke="#56B4E9" stroke-width="2.70" stroke-linecap="round" stroke-linejoin="round"/>
<line x1="307.3" x2="307.3" y1="540.30" y2="365.60" stroke="#000" stroke-width="1.5"/>
<line x1="373.2" x2="373.2" y1="540.30" y2="365.60" stroke="#000" stroke-width="1.5" stroke-dasharray="1.95 5.85 7.8 5.85" stroke-dashoffset="0.75"/>
</g>
<rect x="58.96" y="365.60" width="501.44" height="174.70" fill="none" stroke="#B3B3B3" stroke-width="1.1"/>
<rect x="560.40" y="365.30" width="24.20" height="175.20" fill="#B3B3B3"/>
<text x="0" y="0" transform="translate(572.4,452.95) rotate(90)" text-anchor="middle" dominant-baseline="central" fill="#fff" font-size="12.1">Nocturnal arboreal</text>
<line x1="55" x2="58.96" y1="532.60" y2="532.60" stroke="#B3B3B3" stroke-width="1"/>
<text x="52.1" y="537.00" text-anchor="end" fill="#4D4D4D" stroke="#4D4D4D" stroke-width="0.3" font-size="12.3">0.00</text>
<line x1="55" x2="58.96" y1="481.33" y2="481.33" stroke="#B3B3B3" stroke-width="1"/>
<text x="52.1" y="485.73" text-anchor="end" fill="#4D4D4D" stroke="#4D4D4D" stroke-width="0.3" font-size="12.3">0.04</text>
<line x1="55" x2="58.96" y1="430.06" y2="430.06" stroke="#B3B3B3" stroke-width="1"/>
<text x="52.1" y="434.46" text-anchor="end" fill="#4D4D4D" stroke="#4D4D4D" stroke-width="0.3" font-size="12.3">0.08</text>
<line x1="55" x2="58.96" y1="378.80" y2="378.80" stroke="#B3B3B3" stroke-width="1"/>
<text x="52.1" y="383.20" text-anchor="end" fill="#4D4D4D" stroke="#4D4D4D" stroke-width="0.3" font-size="12.3">0.12</text>
<line x1="76.40" x2="76.40" y1="540.30" y2="543.70" stroke="#B3B3B3" stroke-width="1"/>
<text x="76.40" y="556" text-anchor="middle" fill="#4D4D4D" stroke="#4D4D4D" stroke-width="0.3" font-size="12.3">0</text>
<line x1="241.35" x2="241.35" y1="540.30" y2="543.70" stroke="#B3B3B3" stroke-width="1"/>
<text x="241.35" y="556" text-anchor="middle" fill="#4D4D4D" stroke="#4D4D4D" stroke-width="0.3" font-size="12.3">10</text>
<line x1="406.30" x2="406.30" y1="540.30" y2="543.70" stroke="#B3B3B3" stroke-width="1"/>
<text x="406.30" y="556" text-anchor="middle" fill="#4D4D4D" stroke="#4D4D4D" stroke-width="0.3" font-size="12.3">20</text>
<text x="201.7" y="581.6" font-weight="bold" font-size="19.2" fill="#000">Average seed width (mm)</text>
<text x="0" y="0" transform="translate(13.9,271.9) rotate(-90)" text-anchor="middle" font-weight="bold" font-size="17.7" fill="#000">Density</text>
<text x="591.2" y="166.3" font-weight="bold" font-size="17.7" fill="#000">Frugivores</text>
<rect x="608.40" y="176.50" width="20.10" height="19.80" fill="none" stroke="#D55E00" stroke-width="2.8"/>
<text x="638.1" y="190.70" fill="#000" stroke="#000" stroke-width="0.25" font-size="12.2">A.m.</text>
<rect x="608.40" y="200.10" width="20.10" height="19.80" fill="none" stroke="#000000" stroke-width="2.8"/>
<text x="638.1" y="214.30" fill="#000" stroke="#000" stroke-width="0.25" font-size="12.2">A.p.</text>
<rect x="608.40" y="223.70" width="20.10" height="19.80" fill="none" stroke="#E69F00" stroke-width="2.8"/>
<text x="638.1" y="237.90" fill="#000" stroke="#000" stroke-width="0.25" font-size="12.2">C.p.</text>
<rect x="608.40" y="247.30" width="20.10" height="19.80" fill="none" stroke="#56B4E9" stroke-width="2.8"/>
<text x="638.1" y="261.50" fill="#000" stroke="#000" stroke-width="0.25" font-size="12.2">P.f.</text>
<rect x="608.40" y="270.90" width="20.10" height="19.80" fill="none" stroke="#009E73" stroke-width="2.8"/>
<text x="638.1" y="285.10" fill="#000" stroke="#000" stroke-width="0.25" font-size="12.2">P.m.</text>
<rect x="608.40" y="294.50" width="20.10" height="19.80" fill="none" stroke="#F0E442" stroke-width="2.8"/>
<text x="638.1" y="308.70" fill="#000" stroke="#000" stroke-width="0.25" font-size="12.2">R.r.</text>
<rect x="608.40" y="318.10" width="20.10" height="19.80" fill="none" stroke="#0072B2" stroke-width="2.8"/>
<text x="638.1" y="332.30" fill="#000" stroke="#000" stroke-width="0.25" font-size="12.2">R.spp.</text>
<rect x="608.40" y="341.70" width="20.10" height="19.80" fill="none" stroke="#999999" stroke-width="2.8"/>
<text x="638.1" y="355.90" fill="#000" stroke="#000" stroke-width="0.25" font-size="12.2">S.a.</text>
<rect x="608.40" y="365.30" width="20.10" height="19.80" fill="none" stroke="#CC79A7" stroke-width="2.8"/>
<text x="638.1" y="379.50" fill="#000" stroke="#000" stroke-width="0.25" font-size="12.2">S.m.</text>
</svg></body></html>
